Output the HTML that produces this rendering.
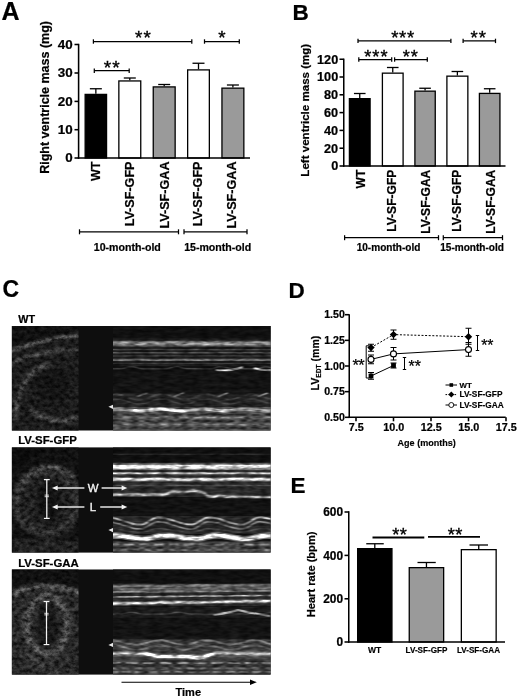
<!DOCTYPE html>
<html><head><meta charset="utf-8"><title>Figure</title>
<style>
html,body{margin:0;padding:0;background:#fff;}
body{width:520px;height:699px;overflow:hidden;}
svg{display:block;font-family:"Liberation Sans",Arial,Helvetica,sans-serif;}
</style></head><body>
<svg width="520" height="699" viewBox="0 0 520 699">
<rect x="0" y="0" width="520" height="699" fill="#fff"/>
<g id="panelA">
<text x="1.60" y="19.60" font-size="25" text-anchor="start" font-weight="bold" fill="#000"  stroke="#000" stroke-width="0.22">A</text>
<line x1="95.85" y1="88.75" x2="95.85" y2="93.75" stroke="#000" stroke-width="1.3" />
<line x1="89.85" y1="88.75" x2="101.85" y2="88.75" stroke="#000" stroke-width="1.3" />
<rect x="85.15" y="94.40" width="21.40" height="63.60" fill="#000" stroke="#000" stroke-width="1.3" />
<line x1="129.80" y1="78.00" x2="129.80" y2="80.30" stroke="#000" stroke-width="1.3" />
<line x1="123.80" y1="78.00" x2="135.80" y2="78.00" stroke="#000" stroke-width="1.3" />
<rect x="118.85" y="80.95" width="21.90" height="77.05" fill="#fff" stroke="#000" stroke-width="1.3" />
<line x1="164.20" y1="84.50" x2="164.20" y2="86.25" stroke="#000" stroke-width="1.3" />
<line x1="158.20" y1="84.50" x2="170.20" y2="84.50" stroke="#000" stroke-width="1.3" />
<rect x="153.25" y="86.90" width="21.90" height="71.10" fill="#9a9a9a" stroke="#000" stroke-width="1.3" />
<line x1="198.50" y1="63.25" x2="198.50" y2="69.25" stroke="#000" stroke-width="1.3" />
<line x1="192.50" y1="63.25" x2="204.50" y2="63.25" stroke="#000" stroke-width="1.3" />
<rect x="187.65" y="69.90" width="21.70" height="88.10" fill="#fff" stroke="#000" stroke-width="1.3" />
<line x1="232.90" y1="85.00" x2="232.90" y2="87.50" stroke="#000" stroke-width="1.3" />
<line x1="226.90" y1="85.00" x2="238.90" y2="85.00" stroke="#000" stroke-width="1.3" />
<rect x="221.95" y="88.15" width="21.90" height="69.85" fill="#9a9a9a" stroke="#000" stroke-width="1.3" />
<line x1="78.60" y1="43.80" x2="78.60" y2="158.78" stroke="#000" stroke-width="1.55" />
<line x1="77.82" y1="158.00" x2="250.00" y2="158.00" stroke="#000" stroke-width="1.55" />
<line x1="74.50" y1="44.50" x2="78.60" y2="44.50" stroke="#000" stroke-width="1.55" />
<text x="72.70" y="48.90" font-size="13.4" text-anchor="end" font-weight="bold" fill="#000"  stroke="#000" stroke-width="0.22">40</text>
<line x1="74.50" y1="73.00" x2="78.60" y2="73.00" stroke="#000" stroke-width="1.55" />
<text x="72.70" y="77.40" font-size="13.4" text-anchor="end" font-weight="bold" fill="#000"  stroke="#000" stroke-width="0.22">30</text>
<line x1="74.50" y1="101.40" x2="78.60" y2="101.40" stroke="#000" stroke-width="1.55" />
<text x="72.70" y="105.80" font-size="13.4" text-anchor="end" font-weight="bold" fill="#000"  stroke="#000" stroke-width="0.22">20</text>
<line x1="74.50" y1="129.70" x2="78.60" y2="129.70" stroke="#000" stroke-width="1.55" />
<text x="72.70" y="134.10" font-size="13.4" text-anchor="end" font-weight="bold" fill="#000"  stroke="#000" stroke-width="0.22">10</text>
<line x1="74.50" y1="158.00" x2="78.60" y2="158.00" stroke="#000" stroke-width="1.55" />
<text x="72.70" y="162.40" font-size="13.4" text-anchor="end" font-weight="bold" fill="#000"  stroke="#000" stroke-width="0.22">0</text>
<text x="49.00" y="97.40" font-size="12.5" text-anchor="middle" font-weight="bold" fill="#000" transform="rotate(-90 49.00 97.40)"  stroke="#000" stroke-width="0.22">Right ventricle mass (mg)</text>
<text x="100.00" y="161.50" font-size="12.6" text-anchor="end" font-weight="bold" fill="#000" transform="rotate(-90 100.00 161.50)"  stroke="#000" stroke-width="0.22">WT</text>
<text x="134.30" y="161.50" font-size="12.6" text-anchor="end" font-weight="bold" fill="#000" transform="rotate(-90 134.30 161.50)"  stroke="#000" stroke-width="0.22">LV-SF-GFP</text>
<text x="169.10" y="161.50" font-size="12.6" text-anchor="end" font-weight="bold" fill="#000" transform="rotate(-90 169.10 161.50)"  stroke="#000" stroke-width="0.22">LV-SF-GAA</text>
<text x="201.70" y="161.50" font-size="12.6" text-anchor="end" font-weight="bold" fill="#000" transform="rotate(-90 201.70 161.50)"  stroke="#000" stroke-width="0.22">LV-SF-GFP</text>
<text x="235.70" y="161.50" font-size="12.6" text-anchor="end" font-weight="bold" fill="#000" transform="rotate(-90 235.70 161.50)"  stroke="#000" stroke-width="0.22">LV-SF-GAA</text>
<line x1="93.40" y1="41.50" x2="191.80" y2="41.50" stroke="#000" stroke-width="1.25" />
<line x1="93.40" y1="39.30" x2="93.40" y2="43.70" stroke="#000" stroke-width="1.25" />
<line x1="191.80" y1="39.30" x2="191.80" y2="43.70" stroke="#000" stroke-width="1.25" />
<text x="135.12" y="44.19" font-size="18.82" font-weight="normal" letter-spacing="1.18" stroke="#000" stroke-width="0.35">**</text>
<line x1="204.50" y1="41.50" x2="239.30" y2="41.50" stroke="#000" stroke-width="1.25" />
<line x1="204.50" y1="39.30" x2="204.50" y2="43.70" stroke="#000" stroke-width="1.25" />
<line x1="239.30" y1="39.30" x2="239.30" y2="43.70" stroke="#000" stroke-width="1.25" />
<text x="218.17" y="44.19" font-size="18.82" font-weight="normal" letter-spacing="0.00" stroke="#000" stroke-width="0.35">*</text>
<line x1="94.30" y1="70.70" x2="129.20" y2="70.70" stroke="#000" stroke-width="1.25" />
<line x1="94.30" y1="68.50" x2="94.30" y2="72.90" stroke="#000" stroke-width="1.25" />
<line x1="129.20" y1="68.50" x2="129.20" y2="72.90" stroke="#000" stroke-width="1.25" />
<text x="103.82" y="74.39" font-size="19.12" font-weight="normal" letter-spacing="1.06" stroke="#000" stroke-width="0.35">**</text>
<line x1="79.50" y1="231.80" x2="178.50" y2="231.80" stroke="#000" stroke-width="1.25" />
<line x1="79.50" y1="229.30" x2="79.50" y2="234.30" stroke="#000" stroke-width="1.25" />
<line x1="178.50" y1="229.30" x2="178.50" y2="234.30" stroke="#000" stroke-width="1.25" />
<line x1="184.00" y1="231.80" x2="247.00" y2="231.80" stroke="#000" stroke-width="1.25" />
<line x1="184.00" y1="229.30" x2="184.00" y2="234.30" stroke="#000" stroke-width="1.25" />
<line x1="247.00" y1="229.30" x2="247.00" y2="234.30" stroke="#000" stroke-width="1.25" />
<text x="127.30" y="251.20" font-size="10.6" text-anchor="middle" font-weight="bold" fill="#000"  stroke="#000" stroke-width="0.22">10-month-old</text>
<text x="217.70" y="251.20" font-size="10.6" text-anchor="middle" font-weight="bold" fill="#000"  stroke="#000" stroke-width="0.22">15-month-old</text>
</g>
<g id="panelB">
<text x="292.40" y="20.00" font-size="22.5" text-anchor="start" font-weight="bold" fill="#000"  stroke="#000" stroke-width="0.22">B</text>
<line x1="359.75" y1="93.50" x2="359.75" y2="98.00" stroke="#000" stroke-width="1.3" />
<line x1="353.95" y1="93.50" x2="365.55" y2="93.50" stroke="#000" stroke-width="1.3" />
<rect x="349.40" y="98.65" width="20.70" height="67.35" fill="#000" stroke="#000" stroke-width="1.3" />
<line x1="392.75" y1="67.50" x2="392.75" y2="72.50" stroke="#000" stroke-width="1.3" />
<line x1="386.95" y1="67.50" x2="398.55" y2="67.50" stroke="#000" stroke-width="1.3" />
<rect x="382.40" y="73.15" width="20.70" height="92.85" fill="#fff" stroke="#000" stroke-width="1.3" />
<line x1="425.07" y1="88.25" x2="425.07" y2="90.50" stroke="#000" stroke-width="1.3" />
<line x1="419.27" y1="88.25" x2="430.88" y2="88.25" stroke="#000" stroke-width="1.3" />
<rect x="414.90" y="91.15" width="20.35" height="74.85" fill="#9a9a9a" stroke="#000" stroke-width="1.3" />
<line x1="457.38" y1="71.50" x2="457.38" y2="75.50" stroke="#000" stroke-width="1.3" />
<line x1="451.57" y1="71.50" x2="463.18" y2="71.50" stroke="#000" stroke-width="1.3" />
<rect x="446.90" y="76.15" width="20.95" height="89.85" fill="#fff" stroke="#000" stroke-width="1.3" />
<line x1="489.68" y1="88.75" x2="489.68" y2="92.75" stroke="#000" stroke-width="1.3" />
<line x1="483.88" y1="88.75" x2="495.48" y2="88.75" stroke="#000" stroke-width="1.3" />
<rect x="479.40" y="93.40" width="20.55" height="72.60" fill="#9a9a9a" stroke="#000" stroke-width="1.3" />
<line x1="343.75" y1="58.60" x2="343.75" y2="166.78" stroke="#000" stroke-width="1.55" />
<line x1="342.98" y1="166.00" x2="505.50" y2="166.00" stroke="#000" stroke-width="1.55" />
<line x1="339.50" y1="59.25" x2="343.75" y2="59.25" stroke="#000" stroke-width="1.55" />
<text x="338.20" y="63.55" font-size="12.7" text-anchor="end" font-weight="bold" fill="#000"  stroke="#000" stroke-width="0.22">120</text>
<line x1="339.50" y1="77.00" x2="343.75" y2="77.00" stroke="#000" stroke-width="1.55" />
<text x="338.20" y="81.30" font-size="12.7" text-anchor="end" font-weight="bold" fill="#000"  stroke="#000" stroke-width="0.22">100</text>
<line x1="339.50" y1="94.80" x2="343.75" y2="94.80" stroke="#000" stroke-width="1.55" />
<text x="338.20" y="99.10" font-size="12.7" text-anchor="end" font-weight="bold" fill="#000"  stroke="#000" stroke-width="0.22">80</text>
<line x1="339.50" y1="112.60" x2="343.75" y2="112.60" stroke="#000" stroke-width="1.55" />
<text x="338.20" y="116.90" font-size="12.7" text-anchor="end" font-weight="bold" fill="#000"  stroke="#000" stroke-width="0.22">60</text>
<line x1="339.50" y1="130.40" x2="343.75" y2="130.40" stroke="#000" stroke-width="1.55" />
<text x="338.20" y="134.70" font-size="12.7" text-anchor="end" font-weight="bold" fill="#000"  stroke="#000" stroke-width="0.22">40</text>
<line x1="339.50" y1="148.20" x2="343.75" y2="148.20" stroke="#000" stroke-width="1.55" />
<text x="338.20" y="152.50" font-size="12.7" text-anchor="end" font-weight="bold" fill="#000"  stroke="#000" stroke-width="0.22">20</text>
<line x1="339.50" y1="166.00" x2="343.75" y2="166.00" stroke="#000" stroke-width="1.55" />
<text x="338.20" y="170.30" font-size="12.7" text-anchor="end" font-weight="bold" fill="#000"  stroke="#000" stroke-width="0.22">0</text>
<text x="309.30" y="110.20" font-size="11.56" text-anchor="middle" font-weight="bold" fill="#000" transform="rotate(-90 309.30 110.20)"  stroke="#000" stroke-width="0.22">Left ventricle mass (mg)</text>
<text x="365.30" y="169.70" font-size="12.05" text-anchor="end" font-weight="bold" fill="#000" transform="rotate(-90 365.30 169.70)"  stroke="#000" stroke-width="0.22">WT</text>
<text x="396.30" y="169.70" font-size="12.05" text-anchor="end" font-weight="bold" fill="#000" transform="rotate(-90 396.30 169.70)"  stroke="#000" stroke-width="0.22">LV-SF-GFP</text>
<text x="429.80" y="169.70" font-size="12.05" text-anchor="end" font-weight="bold" fill="#000" transform="rotate(-90 429.80 169.70)"  stroke="#000" stroke-width="0.22">LV-SF-GAA</text>
<text x="461.20" y="169.70" font-size="12.05" text-anchor="end" font-weight="bold" fill="#000" transform="rotate(-90 461.20 169.70)"  stroke="#000" stroke-width="0.22">LV-SF-GFP</text>
<text x="494.90" y="169.70" font-size="12.05" text-anchor="end" font-weight="bold" fill="#000" transform="rotate(-90 494.90 169.70)"  stroke="#000" stroke-width="0.22">LV-SF-GAA</text>
<line x1="358.00" y1="40.90" x2="450.90" y2="40.90" stroke="#000" stroke-width="1.25" />
<line x1="358.00" y1="38.70" x2="358.00" y2="43.10" stroke="#000" stroke-width="1.25" />
<line x1="450.90" y1="38.70" x2="450.90" y2="43.10" stroke="#000" stroke-width="1.25" />
<text x="391.13" y="44.19" font-size="18.53" font-weight="normal" letter-spacing="0.74" stroke="#000" stroke-width="0.35">***</text>
<line x1="463.10" y1="40.90" x2="495.50" y2="40.90" stroke="#000" stroke-width="1.25" />
<line x1="463.10" y1="38.70" x2="463.10" y2="43.10" stroke="#000" stroke-width="1.25" />
<line x1="495.50" y1="38.70" x2="495.50" y2="43.10" stroke="#000" stroke-width="1.25" />
<text x="470.53" y="44.19" font-size="18.53" font-weight="normal" letter-spacing="0.99" stroke="#000" stroke-width="0.35">**</text>
<line x1="358.80" y1="59.50" x2="391.70" y2="59.50" stroke="#000" stroke-width="1.25" />
<line x1="358.80" y1="57.30" x2="358.80" y2="61.70" stroke="#000" stroke-width="1.25" />
<line x1="391.70" y1="57.30" x2="391.70" y2="61.70" stroke="#000" stroke-width="1.25" />
<text x="364.14" y="62.78" font-size="18.24" font-weight="normal" letter-spacing="1.06" stroke="#000" stroke-width="0.35">***</text>
<line x1="394.60" y1="59.50" x2="427.30" y2="59.50" stroke="#000" stroke-width="1.25" />
<line x1="394.60" y1="57.30" x2="394.60" y2="61.70" stroke="#000" stroke-width="1.25" />
<line x1="427.30" y1="57.30" x2="427.30" y2="61.70" stroke="#000" stroke-width="1.25" />
<text x="402.84" y="62.78" font-size="18.24" font-weight="normal" letter-spacing="0.71" stroke="#000" stroke-width="0.35">**</text>
<line x1="344.60" y1="237.70" x2="438.50" y2="237.70" stroke="#000" stroke-width="1.25" />
<line x1="344.60" y1="235.20" x2="344.60" y2="240.20" stroke="#000" stroke-width="1.25" />
<line x1="438.50" y1="235.20" x2="438.50" y2="240.20" stroke="#000" stroke-width="1.25" />
<line x1="443.30" y1="237.70" x2="502.50" y2="237.70" stroke="#000" stroke-width="1.25" />
<line x1="443.30" y1="235.20" x2="443.30" y2="240.20" stroke="#000" stroke-width="1.25" />
<line x1="502.50" y1="235.20" x2="502.50" y2="240.20" stroke="#000" stroke-width="1.25" />
<text x="388.50" y="251.20" font-size="10.05" text-anchor="middle" font-weight="bold" fill="#000"  stroke="#000" stroke-width="0.22">10-month-old</text>
<text x="472.10" y="251.20" font-size="10.05" text-anchor="middle" font-weight="bold" fill="#000"  stroke="#000" stroke-width="0.22">15-month-old</text>
</g>
<g id="panelD">
<text x="288.60" y="298.00" font-size="22.5" text-anchor="start" font-weight="bold" fill="#000"  stroke="#000" stroke-width="0.22">D</text>
<line x1="349.25" y1="314.30" x2="349.25" y2="418.07" stroke="#000" stroke-width="1.55" />
<line x1="348.48" y1="417.30" x2="505.70" y2="417.30" stroke="#000" stroke-width="1.55" />
<line x1="345.00" y1="314.70" x2="349.25" y2="314.70" stroke="#000" stroke-width="1.55" />
<text x="344.80" y="318.40" font-size="10.6" text-anchor="end" font-weight="bold" fill="#000"  stroke="#000" stroke-width="0.22">1.50</text>
<line x1="345.00" y1="340.35" x2="349.25" y2="340.35" stroke="#000" stroke-width="1.55" />
<text x="344.80" y="344.05" font-size="10.6" text-anchor="end" font-weight="bold" fill="#000"  stroke="#000" stroke-width="0.22">1.25</text>
<line x1="345.00" y1="366.00" x2="349.25" y2="366.00" stroke="#000" stroke-width="1.55" />
<text x="344.80" y="369.70" font-size="10.6" text-anchor="end" font-weight="bold" fill="#000"  stroke="#000" stroke-width="0.22">1.00</text>
<line x1="345.00" y1="391.65" x2="349.25" y2="391.65" stroke="#000" stroke-width="1.55" />
<text x="344.80" y="395.35" font-size="10.6" text-anchor="end" font-weight="bold" fill="#000"  stroke="#000" stroke-width="0.22">0.75</text>
<line x1="345.00" y1="417.30" x2="349.25" y2="417.30" stroke="#000" stroke-width="1.55" />
<text x="344.80" y="421.00" font-size="10.6" text-anchor="end" font-weight="bold" fill="#000"  stroke="#000" stroke-width="0.22">0.50</text>
<line x1="356.00" y1="417.30" x2="356.00" y2="421.30" stroke="#000" stroke-width="1.55" />
<text x="356.30" y="431.20" font-size="10.8" text-anchor="middle" font-weight="bold" fill="#000"  stroke="#000" stroke-width="0.22">7.5</text>
<line x1="393.50" y1="417.30" x2="393.50" y2="421.30" stroke="#000" stroke-width="1.55" />
<text x="393.80" y="431.20" font-size="10.8" text-anchor="middle" font-weight="bold" fill="#000"  stroke="#000" stroke-width="0.22">10.0</text>
<line x1="431.00" y1="417.30" x2="431.00" y2="421.30" stroke="#000" stroke-width="1.55" />
<text x="431.30" y="431.20" font-size="10.8" text-anchor="middle" font-weight="bold" fill="#000"  stroke="#000" stroke-width="0.22">12.5</text>
<line x1="468.50" y1="417.30" x2="468.50" y2="421.30" stroke="#000" stroke-width="1.55" />
<text x="468.80" y="431.20" font-size="10.8" text-anchor="middle" font-weight="bold" fill="#000"  stroke="#000" stroke-width="0.22">15.0</text>
<line x1="506.00" y1="417.30" x2="506.00" y2="421.30" stroke="#000" stroke-width="1.55" />
<text x="506.30" y="431.20" font-size="10.8" text-anchor="middle" font-weight="bold" fill="#000"  stroke="#000" stroke-width="0.22">17.5</text>
<text x="426.70" y="445.60" font-size="9.05" text-anchor="middle" font-weight="bold" fill="#000"  stroke="#000" stroke-width="0.15">Age (months)</text>
<text transform="translate(319.4 390.4) rotate(-90)" stroke="#000" stroke-width="0.2" font-size="10.6" font-weight="bold">LV<tspan font-size="6.6" dy="1.6">EDT</tspan><tspan dy="-1.6"> (mm)</tspan></text>
<line x1="371.00" y1="344.25" x2="371.00" y2="351.25" stroke="#000" stroke-width="1.0" />
<line x1="368.00" y1="344.25" x2="374.00" y2="344.25" stroke="#000" stroke-width="1.0" />
<line x1="368.00" y1="351.25" x2="374.00" y2="351.25" stroke="#000" stroke-width="1.0" />
<line x1="393.50" y1="330.00" x2="393.50" y2="339.25" stroke="#000" stroke-width="1.0" />
<line x1="390.50" y1="330.00" x2="396.50" y2="330.00" stroke="#000" stroke-width="1.0" />
<line x1="390.50" y1="339.25" x2="396.50" y2="339.25" stroke="#000" stroke-width="1.0" />
<line x1="468.50" y1="328.25" x2="468.50" y2="344.25" stroke="#000" stroke-width="1.0" />
<line x1="465.50" y1="328.25" x2="471.50" y2="328.25" stroke="#000" stroke-width="1.0" />
<line x1="465.50" y1="344.25" x2="471.50" y2="344.25" stroke="#000" stroke-width="1.0" />
<line x1="371.00" y1="355.00" x2="371.00" y2="363.75" stroke="#000" stroke-width="1.0" />
<line x1="368.00" y1="355.00" x2="374.00" y2="355.00" stroke="#000" stroke-width="1.0" />
<line x1="368.00" y1="363.75" x2="374.00" y2="363.75" stroke="#000" stroke-width="1.0" />
<line x1="393.50" y1="347.50" x2="393.50" y2="360.00" stroke="#000" stroke-width="1.0" />
<line x1="390.50" y1="347.50" x2="396.50" y2="347.50" stroke="#000" stroke-width="1.0" />
<line x1="390.50" y1="360.00" x2="396.50" y2="360.00" stroke="#000" stroke-width="1.0" />
<line x1="468.50" y1="342.50" x2="468.50" y2="356.25" stroke="#000" stroke-width="1.0" />
<line x1="465.50" y1="342.50" x2="471.50" y2="342.50" stroke="#000" stroke-width="1.0" />
<line x1="465.50" y1="356.25" x2="471.50" y2="356.25" stroke="#000" stroke-width="1.0" />
<line x1="371.00" y1="372.50" x2="371.00" y2="379.25" stroke="#000" stroke-width="1.0" />
<line x1="368.00" y1="372.50" x2="374.00" y2="372.50" stroke="#000" stroke-width="1.0" />
<line x1="368.00" y1="379.25" x2="374.00" y2="379.25" stroke="#000" stroke-width="1.0" />
<line x1="393.50" y1="363.00" x2="393.50" y2="368.00" stroke="#000" stroke-width="1.0" />
<line x1="390.50" y1="363.00" x2="396.50" y2="363.00" stroke="#000" stroke-width="1.0" />
<line x1="390.50" y1="368.00" x2="396.50" y2="368.00" stroke="#000" stroke-width="1.0" />
<polyline points="371.0,347.6 393.5,334.6 468.5,336.7" fill="none" stroke="#000" stroke-width="1" stroke-dasharray="2 1.6"/>
<polyline points="371.0,359.4 393.5,353.9 468.5,349.6" fill="none" stroke="#000" stroke-width="1"/>
<polyline points="371.0,376.0 393.5,365.5" fill="none" stroke="#000" stroke-width="1"/>
<polygon points="367.3,347.6 371.0,343.9 374.7,347.6 371.0,351.3" fill="#000"/>
<polygon points="389.8,334.6 393.5,330.9 397.2,334.6 393.5,338.3" fill="#000"/>
<polygon points="464.8,336.7 468.5,333.0 472.2,336.7 468.5,340.4" fill="#000"/>
<circle cx="371.0" cy="359.4" r="3.0" fill="#fff" stroke="#000" stroke-width="1.1"/>
<circle cx="393.5" cy="353.9" r="3.0" fill="#fff" stroke="#000" stroke-width="1.1"/>
<circle cx="468.5" cy="349.6" r="3.0" fill="#fff" stroke="#000" stroke-width="1.1"/>
<rect x="368.6" y="373.6" width="4.8" height="4.8" fill="#000"/>
<rect x="391.1" y="363.1" width="4.8" height="4.8" fill="#000"/>
<line x1="366.20" y1="345.80" x2="366.20" y2="378.00" stroke="#000" stroke-width="1.0" />
<line x1="366.20" y1="345.80" x2="369.40" y2="345.80" stroke="#000" stroke-width="1.0" />
<line x1="366.20" y1="378.00" x2="369.40" y2="378.00" stroke="#000" stroke-width="1.0" />
<text x="352.57" y="371.36" font-size="16.47" font-weight="normal" letter-spacing="-0.81" stroke="#000" stroke-width="0.25">**</text>
<line x1="404.50" y1="357.50" x2="404.50" y2="369.50" stroke="#000" stroke-width="1.0" />
<line x1="402.80" y1="357.50" x2="406.20" y2="357.50" stroke="#000" stroke-width="1" />
<line x1="402.80" y1="369.50" x2="406.20" y2="369.50" stroke="#000" stroke-width="1" />
<text x="408.48" y="371.96" font-size="15.88" font-weight="normal" letter-spacing="0.22" stroke="#000" stroke-width="0.25">**</text>
<line x1="477.50" y1="335.50" x2="477.50" y2="350.50" stroke="#000" stroke-width="1.0" />
<line x1="475.80" y1="335.50" x2="479.20" y2="335.50" stroke="#000" stroke-width="1" />
<line x1="475.80" y1="350.50" x2="479.20" y2="350.50" stroke="#000" stroke-width="1" />
<text x="481.18" y="351.36" font-size="15.88" font-weight="normal" letter-spacing="-0.08" stroke="#000" stroke-width="0.25">**</text>
<line x1="445.50" y1="385.00" x2="457.00" y2="385.00" stroke="#000" stroke-width="1" />
<rect x="449.5" y="383.2" width="3.6" height="3.6" fill="#000"/>
<text x="459.50" y="387.50" font-size="7.9" text-anchor="start" font-weight="bold" fill="#000"  stroke="#000" stroke-width="0.15">WT</text>
<line x1="445.50" y1="394.60" x2="457.00" y2="394.60" stroke="#000" stroke-width="1" stroke-dasharray="1.6 1.4"/>
<polygon points="448.3,394.6 451.3,391.6 454.3,394.6 451.3,397.6" fill="#000"/>
<text x="459.50" y="397.20" font-size="8.35" text-anchor="start" font-weight="bold" fill="#000"  stroke="#000" stroke-width="0.15">LV-SF-GFP</text>
<line x1="445.50" y1="405.00" x2="457.00" y2="405.00" stroke="#000" stroke-width="1" />
<circle cx="451.3" cy="405" r="2.5" fill="#fff" stroke="#000" stroke-width="0.9"/>
<text x="459.50" y="407.60" font-size="8.35" text-anchor="start" font-weight="bold" fill="#000"  stroke="#000" stroke-width="0.15">LV-SF-GAA</text>
</g>
<g id="panelE">
<text x="290.60" y="492.90" font-size="22.5" text-anchor="start" font-weight="bold" fill="#000"  stroke="#000" stroke-width="0.22">E</text>
<line x1="374.80" y1="543.75" x2="374.80" y2="548.00" stroke="#000" stroke-width="1.3" />
<line x1="366.25" y1="543.75" x2="383.75" y2="543.75" stroke="#000" stroke-width="1.3" />
<rect x="357.65" y="548.65" width="34.30" height="93.35" fill="#000" stroke="#000" stroke-width="1.3" />
<line x1="426.45" y1="562.50" x2="426.45" y2="567.00" stroke="#000" stroke-width="1.3" />
<line x1="417.50" y1="562.50" x2="435.75" y2="562.50" stroke="#000" stroke-width="1.3" />
<rect x="409.25" y="567.65" width="34.40" height="74.35" fill="#9a9a9a" stroke="#000" stroke-width="1.3" />
<line x1="478.75" y1="545.00" x2="478.75" y2="549.00" stroke="#000" stroke-width="1.3" />
<line x1="469.50" y1="545.00" x2="488.00" y2="545.00" stroke="#000" stroke-width="1.3" />
<rect x="461.35" y="549.65" width="34.80" height="92.35" fill="#fff" stroke="#000" stroke-width="1.3" />
<line x1="348.75" y1="511.20" x2="348.75" y2="642.77" stroke="#000" stroke-width="1.55" />
<line x1="347.98" y1="642.00" x2="505.00" y2="642.00" stroke="#000" stroke-width="1.55" />
<line x1="344.50" y1="512.00" x2="348.75" y2="512.00" stroke="#000" stroke-width="1.55" />
<text x="343.00" y="516.30" font-size="11.9" text-anchor="end" font-weight="bold" fill="#000"  stroke="#000" stroke-width="0.22">600</text>
<line x1="344.50" y1="555.40" x2="348.75" y2="555.40" stroke="#000" stroke-width="1.55" />
<text x="343.00" y="559.70" font-size="11.9" text-anchor="end" font-weight="bold" fill="#000"  stroke="#000" stroke-width="0.22">400</text>
<line x1="344.50" y1="598.80" x2="348.75" y2="598.80" stroke="#000" stroke-width="1.55" />
<text x="343.00" y="603.10" font-size="11.9" text-anchor="end" font-weight="bold" fill="#000"  stroke="#000" stroke-width="0.22">200</text>
<line x1="344.50" y1="642.00" x2="348.75" y2="642.00" stroke="#000" stroke-width="1.55" />
<text x="343.00" y="646.30" font-size="11.9" text-anchor="end" font-weight="bold" fill="#000"  stroke="#000" stroke-width="0.22">0</text>
<text x="314.60" y="574.40" font-size="11.1" text-anchor="middle" font-weight="bold" fill="#000" transform="rotate(-90 314.60 574.40)"  stroke="#000" stroke-width="0.22">Heart rate (bpm)</text>
<line x1="372.50" y1="537.50" x2="424.30" y2="537.50" stroke="#000" stroke-width="1.8" />
<line x1="428.00" y1="536.90" x2="480.00" y2="536.90" stroke="#000" stroke-width="1.8" />
<text x="392.14" y="540.78" font-size="18.24" font-weight="normal" letter-spacing="0.51" stroke="#000" stroke-width="0.35">**</text>
<text x="447.84" y="540.78" font-size="18.24" font-weight="normal" letter-spacing="0.31" stroke="#000" stroke-width="0.35">**</text>
<text x="374.60" y="653.20" font-size="8.5" text-anchor="middle" font-weight="bold" fill="#000"  stroke="#000" stroke-width="0.15">WT</text>
<text x="426.50" y="653.20" font-size="8.15" text-anchor="middle" font-weight="bold" fill="#000"  stroke="#000" stroke-width="0.15">LV-SF-GFP</text>
<text x="478.50" y="653.20" font-size="8.15" text-anchor="middle" font-weight="bold" fill="#000"  stroke="#000" stroke-width="0.15">LV-SF-GAA</text>
</g>
<defs>
<filter id="fB" x="0" y="0" width="1" height="1" filterUnits="objectBoundingBox" color-interpolation-filters="sRGB">
<feGaussianBlur in="SourceGraphic" stdDeviation="1.8" result="b"/>
<feTurbulence type="fractalNoise" baseFrequency="0.2 0.26" numOctaves="3" seed="7" result="t"/>
<feColorMatrix in="t" type="matrix" values="1.6 0 0 0 -0.3  1.6 0 0 0 -0.3  1.6 0 0 0 -0.3  0 0 0 0 1" result="n"/>
<feComposite in="b" in2="n" operator="arithmetic" k1="1.5" k2="0.25" k3="0" k4="0"/>
</filter>
<filter id="fM" x="0" y="0" width="1" height="1" filterUnits="objectBoundingBox" color-interpolation-filters="sRGB">
<feGaussianBlur in="SourceGraphic" stdDeviation="1.0 0.75" result="b"/>
<feTurbulence type="fractalNoise" baseFrequency="0.1 0.3" numOctaves="2" seed="11" result="t"/>
<feColorMatrix in="t" type="matrix" values="1.6 0 0 0 -0.3  1.6 0 0 0 -0.3  1.6 0 0 0 -0.3  0 0 0 0 1" result="n"/>
<feComposite in="b" in2="n" operator="arithmetic" k1="1.0" k2="0.5" k3="0" k4="0"/>
</filter>
<filter id="bl1" x="-0.1" y="-0.1" width="1.2" height="1.2"><feGaussianBlur stdDeviation="2.5"/></filter>
<clipPath id="cb0"><rect x="11.9" y="326.0" width="66.7" height="104.5"/></clipPath>
<clipPath id="cm0"><rect x="113.0" y="326.0" width="157.6" height="104.5"/></clipPath>
<clipPath id="cb1"><rect x="11.9" y="447.4" width="66.7" height="105.2"/></clipPath>
<clipPath id="cm1"><rect x="113.0" y="447.4" width="157.6" height="105.2"/></clipPath>
<clipPath id="cb2"><rect x="11.9" y="569.5" width="66.7" height="105.1"/></clipPath>
<clipPath id="cm2"><rect x="113.0" y="569.5" width="157.6" height="105.1"/></clipPath>
</defs>
<g id="panelC">
<text x="2.40" y="297.00" font-size="23" text-anchor="start" font-weight="bold" fill="#000"  stroke="#000" stroke-width="0.22">C</text>
<text x="18.30" y="323.40" font-size="10.8" text-anchor="start" font-weight="bold" fill="#000"  stroke="#000" stroke-width="0.22">WT</text>
<text x="18.20" y="444.10" font-size="11.4" text-anchor="start" font-weight="bold" fill="#000"  stroke="#000" stroke-width="0.22">LV-SF-GFP</text>
<text x="18.20" y="566.60" font-size="11.4" text-anchor="start" font-weight="bold" fill="#000"  stroke="#000" stroke-width="0.22">LV-SF-GAA</text>
<rect x="11.9" y="326.0" width="258.7" height="104.5" fill="#0e0e0e"/>
<rect x="11.9" y="447.4" width="258.7" height="105.2" fill="#0e0e0e"/>
<rect x="11.9" y="569.5" width="258.7" height="105.1" fill="#0e0e0e"/>
<g clip-path="url(#cb0)"><g filter="url(#fB)">
<rect x="5.9" y="320.0" width="78.7" height="116.5" fill="#111111"/>
<path d="M0,352 Q40,338 90,334 L90,440 L0,440 Z" fill="#1b1b1b"/>
<path d="M6,352 Q40,339 84,335" fill="none" stroke="#5c5c5c" stroke-width="3"/>
<path d="M10,364 Q45,348 84,350" fill="none" stroke="#484848" stroke-width="3"/>
<path d="M16,420 Q14,375 50,364 " fill="none" stroke="#3e3e3e" stroke-width="5"/>
<ellipse cx="52" cy="386" rx="17" ry="17" fill="#141414"/>
<path d="M30,410 Q50,426 80,418" fill="none" stroke="#3e3e3e" stroke-width="5"/>
<rect x="0" y="320" width="90" height="12" fill="#121212"/>
</g></g>
<g clip-path="url(#cb1)"><g filter="url(#fB)">
<rect x="5.9" y="441.4" width="78.7" height="117.2" fill="#111111"/>
<ellipse cx="47" cy="502" rx="37" ry="37" fill="#202020"/>
<ellipse cx="47" cy="502" rx="30" ry="31" fill="none" stroke="#2e2e2e" stroke-width="7"/>
<path d="M20,484 Q46,452 76,478" fill="none" stroke="#484848" stroke-width="4"/>
<ellipse cx="49" cy="501" rx="13" ry="21" fill="#141414"/>
<path d="M14,540 L80,540 L80,556 L14,556 Z" fill="#222222"/>
<path d="M10,450 L40,450 L10,475 Z" fill="#0c0c0c"/>
</g></g>
<g clip-path="url(#cb2)"><g filter="url(#fB)">
<rect x="5.9" y="563.5" width="78.7" height="117.1" fill="#111111"/>
<path d="M0,600 Q8,585 46,584 Q80,585 90,596 L90,680 L0,680 Z" fill="#282828"/>
<path d="M6,600 Q20,586 46,586 Q70,586 84,596" fill="none" stroke="#4a4a4a" stroke-width="5"/>
<ellipse cx="47" cy="625" rx="20" ry="29" fill="none" stroke="#4a4a4a" stroke-width="7"/>
<ellipse cx="47" cy="626" rx="11" ry="22" fill="#181818"/>
<path d="M25,655 Q45,668 60,676" fill="none" stroke="#3c3c3c" stroke-width="4"/>
</g></g>
<g clip-path="url(#cm0)"><g filter="url(#fM)">
<rect x="105.0" y="320.0" width="173.6" height="116.5" fill="#101010"/>
<rect x="105.0" y="338.5" width="173.6" height="27.5" fill="#1b1b1b"/>
<path d="M109.0,343.6 L112.0,343.6 L115.0,343.6 L118.0,343.6 L121.0,343.6 L124.0,343.6 L127.0,343.6 L130.0,343.6 L133.0,343.6 L136.0,343.6 L139.0,343.6 L142.0,343.6 L145.0,343.6 L148.0,343.6 L151.0,343.6 L154.0,343.6 L157.0,343.6 L160.0,343.6 L163.0,343.6 L166.0,343.6 L169.0,343.6 L172.0,343.6 L175.0,343.6 L178.0,343.6 L181.0,343.6 L184.0,343.6 L187.0,343.6 L190.0,343.6 L193.0,343.6 L196.0,343.6 L199.0,343.6 L202.0,343.6 L205.0,343.6 L208.0,343.6 L211.0,343.6 L214.0,343.6 L217.0,343.6 L220.0,343.6 L223.0,343.6 L226.0,343.6 L229.0,343.6 L232.0,343.6 L235.0,343.6 L238.0,343.6 L241.0,343.6 L244.0,343.6 L247.0,343.6 L250.0,343.6 L253.0,343.6 L256.0,343.6 L259.0,343.6 L262.0,343.6 L265.0,343.6 L268.0,343.6 L271.0,343.6 L274.0,343.6" fill="none" stroke="#646464" stroke-width="5.6" stroke-opacity="1"/>
<path d="M109.0,343.6 L112.0,343.6 L115.0,343.6 L118.0,343.6 L121.0,343.6 L124.0,343.6 L127.0,343.6 L130.0,343.6 L133.0,343.6 L136.0,343.6 L139.0,343.6 L142.0,343.6 L145.0,343.6 L148.0,343.6 L151.0,343.6 L154.0,343.6 L157.0,343.6 L160.0,343.6 L163.0,343.6 L166.0,343.6 L169.0,343.6 L172.0,343.6 L175.0,343.6 L178.0,343.6 L181.0,343.6 L184.0,343.6 L187.0,343.6 L190.0,343.6 L193.0,343.6 L196.0,343.6 L199.0,343.6 L202.0,343.6 L205.0,343.6 L208.0,343.6 L211.0,343.6 L214.0,343.6 L217.0,343.6 L220.0,343.6 L223.0,343.6 L226.0,343.6 L229.0,343.6 L232.0,343.6 L235.0,343.6 L238.0,343.6 L241.0,343.6 L244.0,343.6 L247.0,343.6 L250.0,343.6 L253.0,343.6 L256.0,343.6 L259.0,343.6 L262.0,343.6 L265.0,343.6 L268.0,343.6 L271.0,343.6 L274.0,343.6" fill="none" stroke="#8c8c8c" stroke-width="2.6" stroke-opacity="1"/>
<path d="M109.0,349.6 L112.0,349.6 L115.0,349.6 L118.0,349.6 L121.0,349.6 L124.0,349.6 L127.0,349.6 L130.0,349.6 L133.0,349.6 L136.0,349.6 L139.0,349.6 L142.0,349.6 L145.0,349.6 L148.0,349.6 L151.0,349.6 L154.0,349.6 L157.0,349.6 L160.0,349.6 L163.0,349.6 L166.0,349.6 L169.0,349.6 L172.0,349.6 L175.0,349.6 L178.0,349.6 L181.0,349.6 L184.0,349.6 L187.0,349.6 L190.0,349.6 L193.0,349.6 L196.0,349.6 L199.0,349.6 L202.0,349.6 L205.0,349.6 L208.0,349.6 L211.0,349.6 L214.0,349.6 L217.0,349.6 L220.0,349.6 L223.0,349.6 L226.0,349.6 L229.0,349.6 L232.0,349.6 L235.0,349.6 L238.0,349.6 L241.0,349.6 L244.0,349.6 L247.0,349.6 L250.0,349.6 L253.0,349.6 L256.0,349.6 L259.0,349.6 L262.0,349.6 L265.0,349.6 L268.0,349.6 L271.0,349.6 L274.0,349.6" fill="none" stroke="#3e3e3e" stroke-width="1.2" stroke-opacity="1"/>
<path d="M109.0,352.8 L112.0,352.8 L115.0,352.8 L118.0,352.8 L121.0,352.8 L124.0,352.8 L127.0,352.8 L130.0,352.8 L133.0,352.8 L136.0,352.8 L139.0,352.8 L142.0,352.8 L145.0,352.8 L148.0,352.8 L151.0,352.8 L154.0,352.8 L157.0,352.8 L160.0,352.8 L163.0,352.8 L166.0,352.8 L169.0,352.8 L172.0,352.8 L175.0,352.8 L178.0,352.8 L181.0,352.8 L184.0,352.8 L187.0,352.8 L190.0,352.8 L193.0,352.8 L196.0,352.8 L199.0,352.8 L202.0,352.8 L205.0,352.8 L208.0,352.8 L211.0,352.8 L214.0,352.8 L217.0,352.8 L220.0,352.8 L223.0,352.8 L226.0,352.8 L229.0,352.8 L232.0,352.8 L235.0,352.8 L238.0,352.8 L241.0,352.8 L244.0,352.8 L247.0,352.8 L250.0,352.8 L253.0,352.8 L256.0,352.8 L259.0,352.8 L262.0,352.8 L265.0,352.8 L268.0,352.8 L271.0,352.8 L274.0,352.8" fill="none" stroke="#484848" stroke-width="1.4" stroke-opacity="1"/>
<path d="M109.0,355.8 L112.0,355.8 L115.0,355.8 L118.0,355.8 L121.0,355.8 L124.0,355.8 L127.0,355.8 L130.0,355.8 L133.0,355.8 L136.0,355.8 L139.0,355.8 L142.0,355.8 L145.0,355.8 L148.0,355.8 L151.0,355.8 L154.0,355.8 L157.0,355.8 L160.0,355.8 L163.0,355.8 L166.0,355.8 L169.0,355.8 L172.0,355.8 L175.0,355.8 L178.0,355.8 L181.0,355.8 L184.0,355.8 L187.0,355.8 L190.0,355.8 L193.0,355.8 L196.0,355.8 L199.0,355.8 L202.0,355.8 L205.0,355.8 L208.0,355.8 L211.0,355.8 L214.0,355.8 L217.0,355.8 L220.0,355.8 L223.0,355.8 L226.0,355.8 L229.0,355.8 L232.0,355.8 L235.0,355.8 L238.0,355.8 L241.0,355.8 L244.0,355.8 L247.0,355.8 L250.0,355.8 L253.0,355.8 L256.0,355.8 L259.0,355.8 L262.0,355.8 L265.0,355.8 L268.0,355.8 L271.0,355.8 L274.0,355.8" fill="none" stroke="#3a3a3a" stroke-width="1.2" stroke-opacity="1"/>
<path d="M109.0,359.8 L112.0,359.8 L115.0,359.8 L118.0,359.8 L121.0,359.8 L124.0,359.8 L127.0,359.8 L130.0,359.8 L133.0,359.8 L136.0,359.8 L139.0,359.8 L142.0,359.8 L145.0,359.8 L148.0,359.8 L151.0,359.8 L154.0,359.8 L157.0,359.8 L160.0,359.8 L163.0,359.8 L166.0,359.8 L169.0,359.8 L172.0,359.8 L175.0,359.8 L178.0,359.8 L181.0,359.8 L184.0,359.8 L187.0,359.8 L190.0,359.8 L193.0,359.8 L196.0,359.8 L199.0,359.8 L202.0,359.8 L205.0,359.8 L208.0,359.8 L211.0,359.8 L214.0,359.8 L217.0,359.8 L220.0,359.8 L223.0,359.8 L226.0,359.8 L229.0,359.8 L232.0,359.8 L235.0,359.8 L238.0,359.8 L241.0,359.8 L244.0,359.8 L247.0,359.8 L250.0,359.8 L253.0,359.8 L256.0,359.8 L259.0,359.8 L262.0,359.8 L265.0,359.8 L268.0,359.8 L271.0,359.8 L274.0,359.8" fill="none" stroke="#646464" stroke-width="2.2" stroke-opacity="1"/>
<path d="M109.0,363.5 L112.0,363.5 L115.0,363.5 L118.0,363.5 L121.0,363.5 L124.0,363.5 L127.0,363.5 L130.0,363.5 L133.0,363.5 L136.0,363.5 L139.0,363.5 L142.0,363.5 L145.0,363.5 L148.0,363.5 L151.0,363.5 L154.0,363.5 L157.0,363.5 L160.0,363.5 L163.0,363.5 L166.0,363.5 L169.0,363.5 L172.0,363.5 L175.0,363.5 L178.0,363.5 L181.0,363.5 L184.0,363.5 L187.0,363.5 L190.0,363.5 L193.0,363.5 L196.0,363.5 L199.0,363.5 L202.0,363.5 L205.0,363.5 L208.0,363.5 L211.0,363.5 L214.0,363.5 L217.0,363.5 L220.0,363.5 L223.0,363.5 L226.0,363.5 L229.0,363.5 L232.0,363.5 L235.0,363.5 L238.0,363.5 L241.0,363.5 L244.0,363.5 L247.0,363.5 L250.0,363.5 L253.0,363.5 L256.0,363.5 L259.0,363.5 L262.0,363.5 L265.0,363.5 L268.0,363.5 L271.0,363.5 L274.0,363.5" fill="none" stroke="#343434" stroke-width="1.2" stroke-opacity="1"/>
<path d="M109.0,368.8 L112.0,368.8 L115.0,368.8 L118.0,368.8 L121.0,368.8 L124.0,368.2 L127.0,367.3 L130.0,366.7 L133.0,366.7 L136.0,367.4 L139.0,368.3 L142.0,368.8 L145.0,368.8 L148.0,368.8 L151.0,368.8 L154.0,368.8 L157.0,368.8 L160.0,368.8 L163.0,368.8 L166.0,368.8 L169.0,368.2 L172.0,367.3 L175.0,366.7 L178.0,366.7 L181.0,367.4 L184.0,368.3 L187.0,368.8 L190.0,368.8 L193.0,368.8 L196.0,368.8 L199.0,368.8 L202.0,368.8 L205.0,368.8 L208.0,368.8 L211.0,368.8 L214.0,368.2 L217.0,367.3 L220.0,366.7 L223.0,366.7 L226.0,367.4 L229.0,368.3 L232.0,368.8 L235.0,368.8 L238.0,368.8 L241.0,368.8 L244.0,368.8 L247.0,368.8 L250.0,368.8 L253.0,368.8 L256.0,368.8 L259.0,368.2 L262.0,367.3 L265.0,366.7 L268.0,366.7 L271.0,367.4 L274.0,368.3" fill="none" stroke="#343434" stroke-width="1.6" stroke-opacity="1"/>
<path d="M216,370 Q228,372 243,367" fill="none" stroke="#a5a5a5" stroke-width="2.0"/>
<path d="M254,368 Q262,371 274,370" fill="none" stroke="#a5a5a5" stroke-width="2.0"/>
<rect x="105.0" y="371.5" width="173.6" height="22.0" fill="#131313"/>
<rect x="105.0" y="393.5" width="173.6" height="13.5" fill="#222222"/>
<path d="M109.0,395.8 L112.0,395.0 L115.0,394.6 L118.0,394.5 L121.0,394.9 L124.0,395.7 L127.0,396.7 L130.0,397.7 L133.0,398.6 L136.0,399.2 L139.0,399.5 L142.0,399.3 L145.0,398.7 L148.0,397.9 L151.0,396.8 L154.0,395.8 L157.0,395.0 L160.0,394.6 L163.0,394.5 L166.0,394.9 L169.0,395.7 L172.0,396.7 L175.0,397.7 L178.0,398.6 L181.0,399.2 L184.0,399.5 L187.0,399.3 L190.0,398.7 L193.0,397.9 L196.0,396.8 L199.0,395.8 L202.0,395.0 L205.0,394.6 L208.0,394.5 L211.0,394.9 L214.0,395.7 L217.0,396.7 L220.0,397.7 L223.0,398.6 L226.0,399.2 L229.0,399.5 L232.0,399.3 L235.0,398.7 L238.0,397.9 L241.0,396.8 L244.0,395.8 L247.0,395.0 L250.0,394.6 L253.0,394.5 L256.0,394.9 L259.0,395.7 L262.0,396.7 L265.0,397.7 L268.0,398.6 L271.0,399.2 L274.0,399.5" fill="none" stroke="#3a3a3a" stroke-width="2.0" stroke-opacity="1" stroke-dasharray="14 6"/>
<path d="M137,396.5 L147,393" fill="none" stroke="#7d7d7d" stroke-width="1.8"/>
<path d="M174,396.5 L184,393" fill="none" stroke="#7d7d7d" stroke-width="1.8"/>
<path d="M218,396.5 L228,393" fill="none" stroke="#7d7d7d" stroke-width="1.8"/>
<path d="M258,396.5 L268,393" fill="none" stroke="#7d7d7d" stroke-width="1.8"/>
<path d="M109.0,400.3 L112.0,399.5 L115.0,399.1 L118.0,399.0 L121.0,399.4 L124.0,400.2 L127.0,401.2 L130.0,402.2 L133.0,403.1 L136.0,403.7 L139.0,404.0 L142.0,403.8 L145.0,403.2 L148.0,402.4 L151.0,401.3 L154.0,400.3 L157.0,399.5 L160.0,399.1 L163.0,399.0 L166.0,399.4 L169.0,400.2 L172.0,401.2 L175.0,402.2 L178.0,403.1 L181.0,403.7 L184.0,404.0 L187.0,403.8 L190.0,403.2 L193.0,402.4 L196.0,401.3 L199.0,400.3 L202.0,399.5 L205.0,399.1 L208.0,399.0 L211.0,399.4 L214.0,400.2 L217.0,401.2 L220.0,402.2 L223.0,403.1 L226.0,403.7 L229.0,404.0 L232.0,403.8 L235.0,403.2 L238.0,402.4 L241.0,401.3 L244.0,400.3 L247.0,399.5 L250.0,399.1 L253.0,399.0 L256.0,399.4 L259.0,400.2 L262.0,401.2 L265.0,402.2 L268.0,403.1 L271.0,403.7 L274.0,404.0" fill="none" stroke="#363636" stroke-width="1.6" stroke-opacity="1"/>
<rect x="105.0" y="407" width="173.6" height="29.0" fill="#4a4a4a"/>
<path d="M109.0,410.0 L112.0,409.6 L115.0,409.3 L118.0,409.1 L121.0,409.1 L124.0,409.3 L127.0,409.6 L130.0,410.0 L133.0,410.4 L136.0,410.7 L139.0,410.9 L142.0,410.9 L145.0,410.7 L148.0,410.4 L151.0,410.0 L154.0,409.6 L157.0,409.3 L160.0,409.1 L163.0,409.1 L166.0,409.3 L169.0,409.6 L172.0,410.0 L175.0,410.4 L178.0,410.7 L181.0,410.9 L184.0,410.9 L187.0,410.7 L190.0,410.4 L193.0,410.0 L196.0,409.6 L199.0,409.3 L202.0,409.1 L205.0,409.1 L208.0,409.3 L211.0,409.6 L214.0,410.0 L217.0,410.4 L220.0,410.7 L223.0,410.9 L226.0,410.9 L229.0,410.7 L232.0,410.4 L235.0,410.0 L238.0,409.6 L241.0,409.3 L244.0,409.1 L247.0,409.1 L250.0,409.3 L253.0,409.6 L256.0,410.0 L259.0,410.4 L262.0,410.7 L265.0,410.9 L268.0,410.9 L271.0,410.7 L274.0,410.4" fill="none" stroke="#969696" stroke-width="3.2" stroke-opacity="1"/>
<path d="M134.0,410.5 L137.0,410.8 L140.0,410.9 L143.0,410.8 L146.0,410.6 L149.0,410.3 L152.0,409.9 L155.0,409.5 L158.0,409.2 L161.0,409.1 L164.0,409.2 L167.0,409.4 L170.0,409.7 L173.0,410.1 L176.0,410.5 L179.0,410.8 L182.0,410.9 L185.0,410.8 L188.0,410.6" fill="none" stroke="#e4e4e4" stroke-width="3.0"/>
<path d="M205.0,409.1 L208.0,409.3 L211.0,409.6 L214.0,410.0 L217.0,410.4 L220.0,410.7 L223.0,410.9 L226.0,410.9 L229.0,410.7 L232.0,410.4" fill="none" stroke="#bebebe" stroke-width="2.6"/>
<path d="M109.0,414.6 L112.0,414.6 L115.0,414.6 L118.0,414.6 L121.0,414.6 L124.0,414.6 L127.0,414.6 L130.0,414.6 L133.0,414.6 L136.0,414.6 L139.0,414.6 L142.0,414.6 L145.0,414.6 L148.0,414.6 L151.0,414.6 L154.0,414.6 L157.0,414.6 L160.0,414.6 L163.0,414.6 L166.0,414.6 L169.0,414.6 L172.0,414.6 L175.0,414.6 L178.0,414.6 L181.0,414.6 L184.0,414.6 L187.0,414.6 L190.0,414.6 L193.0,414.6 L196.0,414.6 L199.0,414.6 L202.0,414.6 L205.0,414.6 L208.0,414.6 L211.0,414.6 L214.0,414.6 L217.0,414.6 L220.0,414.6 L223.0,414.6 L226.0,414.6 L229.0,414.6 L232.0,414.6 L235.0,414.6 L238.0,414.6 L241.0,414.6 L244.0,414.6 L247.0,414.6 L250.0,414.6 L253.0,414.6 L256.0,414.6 L259.0,414.6 L262.0,414.6 L265.0,414.6 L268.0,414.6 L271.0,414.6 L274.0,414.6" fill="none" stroke="#282828" stroke-width="1.8" stroke-opacity="1" stroke-dasharray="8 5"/>
<path d="M109.0,417.5 L112.0,417.5 L115.0,417.5 L118.0,417.5 L121.0,417.5 L124.0,417.5 L127.0,417.5 L130.0,417.5 L133.0,417.5 L136.0,417.5 L139.0,417.5 L142.0,417.5 L145.0,417.5 L148.0,417.5 L151.0,417.5 L154.0,417.5 L157.0,417.5 L160.0,417.5 L163.0,417.5 L166.0,417.5 L169.0,417.5 L172.0,417.5 L175.0,417.5 L178.0,417.5 L181.0,417.5 L184.0,417.5 L187.0,417.5 L190.0,417.5 L193.0,417.5 L196.0,417.5 L199.0,417.5 L202.0,417.5 L205.0,417.5 L208.0,417.5 L211.0,417.5 L214.0,417.5 L217.0,417.5 L220.0,417.5 L223.0,417.5 L226.0,417.5 L229.0,417.5 L232.0,417.5 L235.0,417.5 L238.0,417.5 L241.0,417.5 L244.0,417.5 L247.0,417.5 L250.0,417.5 L253.0,417.5 L256.0,417.5 L259.0,417.5 L262.0,417.5 L265.0,417.5 L268.0,417.5 L271.0,417.5 L274.0,417.5" fill="none" stroke="#787878" stroke-width="2" stroke-opacity="1" stroke-dasharray="9 5"/>
<path d="M109.0,421.0 L112.0,421.0 L115.0,421.0 L118.0,421.0 L121.0,421.0 L124.0,421.0 L127.0,421.0 L130.0,421.0 L133.0,421.0 L136.0,421.0 L139.0,421.0 L142.0,421.0 L145.0,421.0 L148.0,421.0 L151.0,421.0 L154.0,421.0 L157.0,421.0 L160.0,421.0 L163.0,421.0 L166.0,421.0 L169.0,421.0 L172.0,421.0 L175.0,421.0 L178.0,421.0 L181.0,421.0 L184.0,421.0 L187.0,421.0 L190.0,421.0 L193.0,421.0 L196.0,421.0 L199.0,421.0 L202.0,421.0 L205.0,421.0 L208.0,421.0 L211.0,421.0 L214.0,421.0 L217.0,421.0 L220.0,421.0 L223.0,421.0 L226.0,421.0 L229.0,421.0 L232.0,421.0 L235.0,421.0 L238.0,421.0 L241.0,421.0 L244.0,421.0 L247.0,421.0 L250.0,421.0 L253.0,421.0 L256.0,421.0 L259.0,421.0 L262.0,421.0 L265.0,421.0 L268.0,421.0 L271.0,421.0 L274.0,421.0" fill="none" stroke="#2d2d2d" stroke-width="1.8" stroke-opacity="1" stroke-dasharray="5 7"/>
<path d="M109.0,424.5 L112.0,424.5 L115.0,424.5 L118.0,424.5 L121.0,424.5 L124.0,424.5 L127.0,424.5 L130.0,424.5 L133.0,424.5 L136.0,424.5 L139.0,424.5 L142.0,424.5 L145.0,424.5 L148.0,424.5 L151.0,424.5 L154.0,424.5 L157.0,424.5 L160.0,424.5 L163.0,424.5 L166.0,424.5 L169.0,424.5 L172.0,424.5 L175.0,424.5 L178.0,424.5 L181.0,424.5 L184.0,424.5 L187.0,424.5 L190.0,424.5 L193.0,424.5 L196.0,424.5 L199.0,424.5 L202.0,424.5 L205.0,424.5 L208.0,424.5 L211.0,424.5 L214.0,424.5 L217.0,424.5 L220.0,424.5 L223.0,424.5 L226.0,424.5 L229.0,424.5 L232.0,424.5 L235.0,424.5 L238.0,424.5 L241.0,424.5 L244.0,424.5 L247.0,424.5 L250.0,424.5 L253.0,424.5 L256.0,424.5 L259.0,424.5 L262.0,424.5 L265.0,424.5 L268.0,424.5 L271.0,424.5 L274.0,424.5" fill="none" stroke="#707070" stroke-width="2" stroke-opacity="1" stroke-dasharray="7 6"/>
<path d="M109.0,428.0 L112.0,428.0 L115.0,428.0 L118.0,428.0 L121.0,428.0 L124.0,428.0 L127.0,428.0 L130.0,428.0 L133.0,428.0 L136.0,428.0 L139.0,428.0 L142.0,428.0 L145.0,428.0 L148.0,428.0 L151.0,428.0 L154.0,428.0 L157.0,428.0 L160.0,428.0 L163.0,428.0 L166.0,428.0 L169.0,428.0 L172.0,428.0 L175.0,428.0 L178.0,428.0 L181.0,428.0 L184.0,428.0 L187.0,428.0 L190.0,428.0 L193.0,428.0 L196.0,428.0 L199.0,428.0 L202.0,428.0 L205.0,428.0 L208.0,428.0 L211.0,428.0 L214.0,428.0 L217.0,428.0 L220.0,428.0 L223.0,428.0 L226.0,428.0 L229.0,428.0 L232.0,428.0 L235.0,428.0 L238.0,428.0 L241.0,428.0 L244.0,428.0 L247.0,428.0 L250.0,428.0 L253.0,428.0 L256.0,428.0 L259.0,428.0 L262.0,428.0 L265.0,428.0 L268.0,428.0 L271.0,428.0 L274.0,428.0" fill="none" stroke="#323232" stroke-width="1.8" stroke-opacity="1" stroke-dasharray="6 5"/>
</g></g>
<g clip-path="url(#cm1)"><g filter="url(#fM)">
<rect x="105.0" y="441.4" width="173.6" height="117.2" fill="#101010"/>
<path d="M109.0,454.2 L112.0,454.2 L115.0,454.2 L118.0,454.2 L121.0,454.2 L124.0,454.2 L127.0,454.2 L130.0,454.2 L133.0,454.2 L136.0,454.2 L139.0,454.2 L142.0,454.2 L145.0,454.2 L148.0,454.2 L151.0,454.2 L154.0,454.2 L157.0,454.2 L160.0,454.2 L163.0,454.2 L166.0,454.2 L169.0,454.2 L172.0,454.2 L175.0,454.2 L178.0,454.2 L181.0,454.2 L184.0,454.2 L187.0,454.2 L190.0,454.2 L193.0,454.2 L196.0,454.2 L199.0,454.2 L202.0,454.2 L205.0,454.2 L208.0,454.2 L211.0,454.2 L214.0,454.2 L217.0,454.2 L220.0,454.2 L223.0,454.2 L226.0,454.2 L229.0,454.2 L232.0,454.2 L235.0,454.2 L238.0,454.2 L241.0,454.2 L244.0,454.2 L247.0,454.2 L250.0,454.2 L253.0,454.2 L256.0,454.2 L259.0,454.2 L262.0,454.2 L265.0,454.2 L268.0,454.2 L271.0,454.2 L274.0,454.2" fill="none" stroke="#282828" stroke-width="1.0" stroke-opacity="1"/>
<rect x="105.0" y="462.5" width="173.6" height="19.5" fill="#2c2c2c"/>
<path d="M109.0,466.8 L112.0,466.8 L115.0,466.8 L118.0,466.8 L121.0,466.8 L124.0,466.8 L127.0,466.8 L130.0,466.8 L133.0,466.8 L136.0,466.8 L139.0,466.8 L142.0,466.8 L145.0,466.8 L148.0,466.8 L151.0,466.8 L154.0,466.8 L157.0,466.8 L160.0,466.8 L163.0,466.8 L166.0,466.8 L169.0,466.8 L172.0,466.8 L175.0,466.8 L178.0,466.8 L181.0,466.8 L184.0,466.8 L187.0,466.8 L190.0,466.8 L193.0,466.8 L196.0,466.8 L199.0,466.8 L202.0,466.8 L205.0,466.8 L208.0,466.8 L211.0,466.8 L214.0,466.8 L217.0,466.8 L220.0,466.8 L223.0,466.8 L226.0,466.8 L229.0,466.8 L232.0,466.8 L235.0,466.8 L238.0,466.8 L241.0,466.8 L244.0,466.8 L247.0,466.8 L250.0,466.8 L253.0,466.8 L256.0,466.8 L259.0,466.8 L262.0,466.8 L265.0,466.8 L268.0,466.8 L271.0,466.8 L274.0,466.8" fill="none" stroke="#787878" stroke-width="6.6" stroke-opacity="1"/>
<path d="M109.0,466.8 L112.0,466.8 L115.0,466.8 L118.0,466.8 L121.0,466.8 L124.0,466.8 L127.0,466.8 L130.0,466.8 L133.0,466.8 L136.0,466.8 L139.0,466.8 L142.0,466.8 L145.0,466.8 L148.0,466.8 L151.0,466.8 L154.0,466.8 L157.0,466.8 L160.0,466.8 L163.0,466.8 L166.0,466.8 L169.0,466.8 L172.0,466.8 L175.0,466.8 L178.0,466.8 L181.0,466.8 L184.0,466.8 L187.0,466.8 L190.0,466.8 L193.0,466.8 L196.0,466.8 L199.0,466.8 L202.0,466.8 L205.0,466.8 L208.0,466.8 L211.0,466.8 L214.0,466.8 L217.0,466.8 L220.0,466.8 L223.0,466.8 L226.0,466.8 L229.0,466.8 L232.0,466.8 L235.0,466.8 L238.0,466.8 L241.0,466.8 L244.0,466.8 L247.0,466.8 L250.0,466.8 L253.0,466.8 L256.0,466.8 L259.0,466.8 L262.0,466.8 L265.0,466.8 L268.0,466.8 L271.0,466.8 L274.0,466.8" fill="none" stroke="#ebebeb" stroke-width="3.6" stroke-opacity="1"/>
<path d="M109.0,473.3 L112.0,473.3 L115.0,473.3 L118.0,473.3 L121.0,473.3 L124.0,473.3 L127.0,473.3 L130.0,473.3 L133.0,473.3 L136.0,473.3 L139.0,473.3 L142.0,473.3 L145.0,473.3 L148.0,473.3 L151.0,473.3 L154.0,473.3 L157.0,473.3 L160.0,473.3 L163.0,473.3 L166.0,473.3 L169.0,473.3 L172.0,473.3 L175.0,473.3 L178.0,473.3 L181.0,473.3 L184.0,473.3 L187.0,473.3 L190.0,473.3 L193.0,473.3 L196.0,473.3 L199.0,473.3 L202.0,473.3 L205.0,473.3 L208.0,473.3 L211.0,473.3 L214.0,473.3 L217.0,473.3 L220.0,473.3 L223.0,473.3 L226.0,473.3 L229.0,473.3 L232.0,473.3 L235.0,473.3 L238.0,473.3 L241.0,473.3 L244.0,473.3 L247.0,473.3 L250.0,473.3 L253.0,473.3 L256.0,473.3 L259.0,473.3 L262.0,473.3 L265.0,473.3 L268.0,473.3 L271.0,473.3 L274.0,473.3" fill="none" stroke="#afafaf" stroke-width="2.0" stroke-opacity="1"/>
<path d="M109.0,479.2 L112.0,479.2 L115.0,479.2 L118.0,479.2 L121.0,479.2 L124.0,479.2 L127.0,479.2 L130.0,479.2 L133.0,479.2 L136.0,479.2 L139.0,479.2 L142.0,479.2 L145.0,479.2 L148.0,479.2 L151.0,479.2 L154.0,479.2 L157.0,479.2 L160.0,479.2 L163.0,479.2 L166.0,479.2 L169.0,479.2 L172.0,479.2 L175.0,479.2 L178.0,479.2 L181.0,479.2 L184.0,479.2 L187.0,479.2 L190.0,479.2 L193.0,479.2 L196.0,479.2 L199.0,479.2 L202.0,479.2 L205.0,479.2 L208.0,479.2 L211.0,479.2 L214.0,479.2 L217.0,479.2 L220.0,479.2 L223.0,479.2 L226.0,479.2 L229.0,479.2 L232.0,479.2 L235.0,479.2 L238.0,479.2 L241.0,479.2 L244.0,479.2 L247.0,479.2 L250.0,479.2 L253.0,479.2 L256.0,479.2 L259.0,479.2 L262.0,479.2 L265.0,479.2 L268.0,479.2 L271.0,479.2 L274.0,479.2" fill="none" stroke="#646464" stroke-width="4.6" stroke-opacity="1"/>
<path d="M109.0,479.2 L112.0,479.2 L115.0,479.2 L118.0,479.2 L121.0,479.2 L124.0,479.2 L127.0,479.2 L130.0,479.2 L133.0,479.2 L136.0,479.2 L139.0,479.2 L142.0,479.2 L145.0,479.2 L148.0,479.2 L151.0,479.2 L154.0,479.2 L157.0,479.2 L160.0,479.2 L163.0,479.2 L166.0,479.2 L169.0,479.2 L172.0,479.2 L175.0,479.2 L178.0,479.2 L181.0,479.2 L184.0,479.2 L187.0,479.2 L190.0,479.2 L193.0,479.2 L196.0,479.2 L199.0,479.2 L202.0,479.2 L205.0,479.2 L208.0,479.2 L211.0,479.2 L214.0,479.2 L217.0,479.2 L220.0,479.2 L223.0,479.2 L226.0,479.2 L229.0,479.2 L232.0,479.2 L235.0,479.2 L238.0,479.2 L241.0,479.2 L244.0,479.2 L247.0,479.2 L250.0,479.2 L253.0,479.2 L256.0,479.2 L259.0,479.2 L262.0,479.2 L265.0,479.2 L268.0,479.2 L271.0,479.2 L274.0,479.2" fill="none" stroke="#e1e1e1" stroke-width="2.6" stroke-opacity="1"/>
<rect x="105.0" y="482" width="173.6" height="15.0" fill="#282828"/>
<path d="M109.0,485.5 L112.0,485.5 L115.0,485.5 L118.0,485.5 L121.0,485.5 L124.0,485.5 L127.0,485.5 L130.0,485.5 L133.0,485.5 L136.0,485.5 L139.0,485.5 L142.0,485.5 L145.0,485.5 L148.0,485.5 L151.0,485.5 L154.0,485.5 L157.0,485.5 L160.0,485.5 L163.0,485.5 L166.0,485.5 L169.0,485.5 L172.0,485.5 L175.0,485.5 L178.0,485.5 L181.0,485.5 L184.0,485.5 L187.0,485.5 L190.0,485.5 L193.0,485.5 L196.0,485.5 L199.0,485.5 L202.0,485.5 L205.0,485.5 L208.0,485.5 L211.0,485.5 L214.0,485.5 L217.0,485.5 L220.0,485.5 L223.0,485.5 L226.0,485.5 L229.0,485.5 L232.0,485.5 L235.0,485.5 L238.0,485.5 L241.0,485.5 L244.0,485.5 L247.0,485.5 L250.0,485.5 L253.0,485.5 L256.0,485.5 L259.0,485.5 L262.0,485.5 L265.0,485.5 L268.0,485.5 L271.0,485.5 L274.0,485.5" fill="none" stroke="#464646" stroke-width="1.4" stroke-opacity="1"/>
<path d="M109.0,494.6 L112.0,494.6 L115.0,494.6 L118.0,494.6 L121.0,494.6 L124.0,494.6 L127.0,494.6 L130.0,494.6 L133.0,494.6 L136.0,494.6 L139.0,494.6 L142.0,494.6 L145.0,494.6 L148.0,494.6 L151.0,494.6 L154.0,494.6 L157.0,494.6 L160.0,494.6 L163.0,494.6 L166.0,494.2 L169.0,492.9 L172.0,491.6 L175.0,491.6 L178.0,491.6 L181.0,491.6 L184.0,491.6 L187.0,491.6 L190.0,491.0 L193.0,490.6 L196.0,491.0 L199.0,491.6 L202.0,492.0 L205.0,493.3 L208.0,496.6 L211.0,496.6 L214.0,496.7 L217.0,495.6 L220.0,495.2 L223.0,495.7 L226.0,496.8 L229.0,496.9 L232.0,496.9 L235.0,496.9 L238.0,497.0 L241.0,497.0 L244.0,497.0 L247.0,497.1 L250.0,497.1 L253.0,497.1 L256.0,497.2 L259.0,497.2 L262.0,497.2 L265.0,497.3 L268.0,497.3 L271.0,497.4 L274.0,497.4" fill="none" stroke="#464646" stroke-width="4.2" stroke-opacity="1"/>
<path d="M109.0,494.6 L112.0,494.6 L115.0,494.6 L118.0,494.6 L121.0,494.6 L124.0,494.6 L127.0,494.6 L130.0,494.6 L133.0,494.6 L136.0,494.6 L139.0,494.6 L142.0,494.6 L145.0,494.6 L148.0,494.6 L151.0,494.6 L154.0,494.6 L157.0,494.6 L160.0,494.6 L163.0,494.6 L166.0,494.2 L169.0,492.9 L172.0,491.6 L175.0,491.6 L178.0,491.6 L181.0,491.6 L184.0,491.6 L187.0,491.6 L190.0,491.0 L193.0,490.6 L196.0,491.0 L199.0,491.6 L202.0,492.0 L205.0,493.3 L208.0,496.6 L211.0,496.6 L214.0,496.7 L217.0,495.6 L220.0,495.2 L223.0,495.7 L226.0,496.8 L229.0,496.9 L232.0,496.9 L235.0,496.9 L238.0,497.0 L241.0,497.0 L244.0,497.0 L247.0,497.1 L250.0,497.1 L253.0,497.1 L256.0,497.2 L259.0,497.2 L262.0,497.2 L265.0,497.3 L268.0,497.3 L271.0,497.4 L274.0,497.4" fill="none" stroke="#b4b4b4" stroke-width="2.2" stroke-opacity="1"/>
<rect x="105.0" y="498.5" width="173.6" height="17.0" fill="#121212"/>
<rect x="105.0" y="516" width="173.6" height="18.0" fill="#262626"/>
<path d="M109.0,517.5 L112.0,517.8 L115.0,518.4 L118.0,519.2 L121.0,520.1 L124.0,521.1 L127.0,522.0 L130.0,522.9 L133.0,523.7 L136.0,524.2 L139.0,524.5 L142.0,524.5 L145.0,523.6 L148.0,521.8 L151.0,519.8 L154.0,518.2 L157.0,517.4 L160.0,517.5 L163.0,517.8 L166.0,518.4 L169.0,519.2 L172.0,520.1 L175.0,521.1 L178.0,522.1 L181.0,523.0 L184.0,523.7 L187.0,524.3 L190.0,524.6 L193.0,524.5 L196.0,523.5 L199.0,521.7 L202.0,519.7 L205.0,518.1 L208.0,517.4 L211.0,517.5 L214.0,517.9 L217.0,518.5 L220.0,519.3 L223.0,520.2 L226.0,521.2 L229.0,522.2 L232.0,523.1 L235.0,523.8 L238.0,524.3 L241.0,524.6 L244.0,524.4 L247.0,523.4 L250.0,521.5 L253.0,519.6 L256.0,518.0 L259.0,517.4 L262.0,517.5 L265.0,517.9 L268.0,518.5 L271.0,519.3 L274.0,520.3" fill="none" stroke="#969696" stroke-width="2.0" stroke-opacity="1"/>
<path d="M109.0,521.9 L112.0,522.2 L115.0,522.8 L118.0,523.6 L121.0,524.5 L124.0,525.5 L127.0,526.4 L130.0,527.3 L133.0,528.1 L136.0,528.6 L139.0,528.9 L142.0,528.9 L145.0,528.0 L148.0,526.2 L151.0,524.2 L154.0,522.6 L157.0,521.8 L160.0,521.9 L163.0,522.2 L166.0,522.8 L169.0,523.6 L172.0,524.5 L175.0,525.5 L178.0,526.5 L181.0,527.4 L184.0,528.1 L187.0,528.7 L190.0,529.0 L193.0,528.9 L196.0,527.9 L199.0,526.1 L202.0,524.1 L205.0,522.5 L208.0,521.8 L211.0,521.9 L214.0,522.3 L217.0,522.9 L220.0,523.7 L223.0,524.6 L226.0,525.6 L229.0,526.6 L232.0,527.5 L235.0,528.2 L238.0,528.7 L241.0,529.0 L244.0,528.8 L247.0,527.8 L250.0,525.9 L253.0,524.0 L256.0,522.4 L259.0,521.8 L262.0,521.9 L265.0,522.3 L268.0,522.9 L271.0,523.7 L274.0,524.7" fill="none" stroke="#6c6c6c" stroke-width="1.8" stroke-opacity="1"/>
<path d="M109.0,528.7 L112.0,528.9 L115.0,529.2 L118.0,529.6 L121.0,530.0 L124.0,530.5 L127.0,531.0 L130.0,531.5 L133.0,531.8 L136.0,532.1 L139.0,532.3 L142.0,532.3 L145.0,531.8 L148.0,530.9 L151.0,529.9 L154.0,529.1 L157.0,528.7 L160.0,528.7 L163.0,528.9 L166.0,529.2 L169.0,529.6 L172.0,530.1 L175.0,530.6 L178.0,531.1 L181.0,531.5 L184.0,531.9 L187.0,532.1 L190.0,532.3 L193.0,532.2 L196.0,531.7 L199.0,530.8 L202.0,529.8 L205.0,529.1 L208.0,528.7 L211.0,528.8 L214.0,528.9 L217.0,529.2 L220.0,529.6 L223.0,530.1 L226.0,530.6 L229.0,531.1 L232.0,531.5 L235.0,531.9 L238.0,532.2 L241.0,532.3 L244.0,532.2 L247.0,531.7 L250.0,530.8 L253.0,529.8 L256.0,529.0 L259.0,528.7 L262.0,528.8 L265.0,529.0 L268.0,529.3 L271.0,529.7 L274.0,530.1" fill="none" stroke="#3e3e3e" stroke-width="1.5" stroke-opacity="1"/>
<path d="M109.0,536.0 L112.0,535.6 L115.0,535.5 L118.0,535.6 L121.0,535.9 L124.0,536.3 L127.0,536.8 L130.0,537.3 L133.0,537.8 L136.0,538.3 L139.0,538.6 L142.0,538.8 L145.0,538.9 L148.0,538.7 L151.0,538.2 L154.0,537.4 L157.0,536.6 L160.0,536.0 L163.0,535.6 L166.0,535.5 L169.0,535.6 L172.0,535.9 L175.0,536.3 L178.0,536.8 L181.0,537.3 L184.0,537.8 L187.0,538.3 L190.0,538.6 L193.0,538.8 L196.0,538.9 L199.0,538.7 L202.0,538.1 L205.0,537.4 L208.0,536.6 L211.0,535.9 L214.0,535.6 L217.0,535.5 L220.0,535.7 L223.0,535.9 L226.0,536.4 L229.0,536.8 L232.0,537.4 L235.0,537.9 L238.0,538.3 L241.0,538.7 L244.0,538.9 L247.0,538.9 L250.0,538.6 L253.0,538.1 L256.0,537.3 L259.0,536.5 L262.0,535.9 L265.0,535.6 L268.0,535.5 L271.0,535.7 L274.0,536.0" fill="none" stroke="#787878" stroke-width="6.4" stroke-opacity="1"/>
<path d="M109.0,536.0 L112.0,535.6 L115.0,535.5 L118.0,535.6 L121.0,535.9 L124.0,536.3 L127.0,536.8 L130.0,537.3 L133.0,537.8 L136.0,538.3 L139.0,538.6 L142.0,538.8 L145.0,538.9 L148.0,538.7 L151.0,538.2 L154.0,537.4 L157.0,536.6 L160.0,536.0 L163.0,535.6 L166.0,535.5 L169.0,535.6 L172.0,535.9 L175.0,536.3 L178.0,536.8 L181.0,537.3 L184.0,537.8 L187.0,538.3 L190.0,538.6 L193.0,538.8 L196.0,538.9 L199.0,538.7 L202.0,538.1 L205.0,537.4 L208.0,536.6 L211.0,535.9 L214.0,535.6 L217.0,535.5 L220.0,535.7 L223.0,535.9 L226.0,536.4 L229.0,536.8 L232.0,537.4 L235.0,537.9 L238.0,538.3 L241.0,538.7 L244.0,538.9 L247.0,538.9 L250.0,538.6 L253.0,538.1 L256.0,537.3 L259.0,536.5 L262.0,535.9 L265.0,535.6 L268.0,535.5 L271.0,535.7 L274.0,536.0" fill="none" stroke="#fcfcfc" stroke-width="3.6" stroke-opacity="1"/>
<rect x="105.0" y="541.5" width="173.6" height="16.5" fill="#424242"/>
<path d="M109.0,544.5 L112.0,544.5 L115.0,544.5 L118.0,544.5 L121.0,544.5 L124.0,544.5 L127.0,544.5 L130.0,544.5 L133.0,544.5 L136.0,544.5 L139.0,544.5 L142.0,544.5 L145.0,544.5 L148.0,544.5 L151.0,544.5 L154.0,544.5 L157.0,544.5 L160.0,544.5 L163.0,544.5 L166.0,544.5 L169.0,544.5 L172.0,544.5 L175.0,544.5 L178.0,544.5 L181.0,544.5 L184.0,544.5 L187.0,544.5 L190.0,544.5 L193.0,544.5 L196.0,544.5 L199.0,544.5 L202.0,544.5 L205.0,544.5 L208.0,544.5 L211.0,544.5 L214.0,544.5 L217.0,544.5 L220.0,544.5 L223.0,544.5 L226.0,544.5 L229.0,544.5 L232.0,544.5 L235.0,544.5 L238.0,544.5 L241.0,544.5 L244.0,544.5 L247.0,544.5 L250.0,544.5 L253.0,544.5 L256.0,544.5 L259.0,544.5 L262.0,544.5 L265.0,544.5 L268.0,544.5 L271.0,544.5 L274.0,544.5" fill="none" stroke="#787878" stroke-width="1.8" stroke-opacity="1" stroke-dasharray="10 5"/>
<path d="M109.0,547.5 L112.0,547.5 L115.0,547.5 L118.0,547.5 L121.0,547.5 L124.0,547.5 L127.0,547.5 L130.0,547.5 L133.0,547.5 L136.0,547.5 L139.0,547.5 L142.0,547.5 L145.0,547.5 L148.0,547.5 L151.0,547.5 L154.0,547.5 L157.0,547.5 L160.0,547.5 L163.0,547.5 L166.0,547.5 L169.0,547.5 L172.0,547.5 L175.0,547.5 L178.0,547.5 L181.0,547.5 L184.0,547.5 L187.0,547.5 L190.0,547.5 L193.0,547.5 L196.0,547.5 L199.0,547.5 L202.0,547.5 L205.0,547.5 L208.0,547.5 L211.0,547.5 L214.0,547.5 L217.0,547.5 L220.0,547.5 L223.0,547.5 L226.0,547.5 L229.0,547.5 L232.0,547.5 L235.0,547.5 L238.0,547.5 L241.0,547.5 L244.0,547.5 L247.0,547.5 L250.0,547.5 L253.0,547.5 L256.0,547.5 L259.0,547.5 L262.0,547.5 L265.0,547.5 L268.0,547.5 L271.0,547.5 L274.0,547.5" fill="none" stroke="#282828" stroke-width="1.6" stroke-opacity="1" stroke-dasharray="6 6"/>
<path d="M109.0,550.0 L112.0,550.0 L115.0,550.0 L118.0,550.0 L121.0,550.0 L124.0,550.0 L127.0,550.0 L130.0,550.0 L133.0,550.0 L136.0,550.0 L139.0,550.0 L142.0,550.0 L145.0,550.0 L148.0,550.0 L151.0,550.0 L154.0,550.0 L157.0,550.0 L160.0,550.0 L163.0,550.0 L166.0,550.0 L169.0,550.0 L172.0,550.0 L175.0,550.0 L178.0,550.0 L181.0,550.0 L184.0,550.0 L187.0,550.0 L190.0,550.0 L193.0,550.0 L196.0,550.0 L199.0,550.0 L202.0,550.0 L205.0,550.0 L208.0,550.0 L211.0,550.0 L214.0,550.0 L217.0,550.0 L220.0,550.0 L223.0,550.0 L226.0,550.0 L229.0,550.0 L232.0,550.0 L235.0,550.0 L238.0,550.0 L241.0,550.0 L244.0,550.0 L247.0,550.0 L250.0,550.0 L253.0,550.0 L256.0,550.0 L259.0,550.0 L262.0,550.0 L265.0,550.0 L268.0,550.0 L271.0,550.0 L274.0,550.0" fill="none" stroke="#696969" stroke-width="1.8" stroke-opacity="1" stroke-dasharray="6 6"/>
</g></g>
<g clip-path="url(#cm2)"><g filter="url(#fM)">
<rect x="105.0" y="563.5" width="173.6" height="117.1" fill="#101010"/>
<rect x="105.0" y="583.5" width="173.6" height="22.5" fill="#282828"/>
<path d="M109.0,588.8 L112.0,588.8 L115.0,588.8 L118.0,588.8 L121.0,588.8 L124.0,588.7 L127.0,588.7 L130.0,588.7 L133.0,588.7 L136.0,588.7 L139.0,588.6 L142.0,588.6 L145.0,588.6 L148.0,588.6 L151.0,588.6 L154.0,588.6 L157.0,588.5 L160.0,588.5 L163.0,588.5 L166.0,588.5 L169.0,588.5 L172.0,588.4 L175.0,588.4 L178.0,588.4 L181.0,588.4 L184.0,588.4 L187.0,588.4 L190.0,588.3 L193.0,588.3 L196.0,588.3 L199.0,588.3 L202.0,588.3 L205.0,588.2 L208.0,588.2 L211.0,588.2 L214.0,588.2 L217.0,588.2 L220.0,588.2 L223.0,588.1 L226.0,588.1 L229.0,588.1 L232.0,588.1 L235.0,588.1 L238.0,588.0 L241.0,588.0 L244.0,588.0 L247.0,588.0 L250.0,588.0 L253.0,588.0 L256.0,587.9 L259.0,587.9 L262.0,587.9 L265.0,587.9 L268.0,587.9 L271.0,587.9 L274.0,587.8" fill="none" stroke="#505050" stroke-width="8.4" stroke-opacity="1"/>
<path d="M109.0,586.2 L112.0,586.2 L115.0,586.2 L118.0,586.2 L121.0,586.2 L124.0,586.1 L127.0,586.1 L130.0,586.1 L133.0,586.1 L136.0,586.1 L139.0,586.0 L142.0,586.0 L145.0,586.0 L148.0,586.0 L151.0,586.0 L154.0,586.0 L157.0,585.9 L160.0,585.9 L163.0,585.9 L166.0,585.9 L169.0,585.9 L172.0,585.8 L175.0,585.8 L178.0,585.8 L181.0,585.8 L184.0,585.8 L187.0,585.8 L190.0,585.7 L193.0,585.7 L196.0,585.7 L199.0,585.7 L202.0,585.7 L205.0,585.6 L208.0,585.6 L211.0,585.6 L214.0,585.6 L217.0,585.6 L220.0,585.6 L223.0,585.5 L226.0,585.5 L229.0,585.5 L232.0,585.5 L235.0,585.5 L238.0,585.5 L241.0,585.4 L244.0,585.4 L247.0,585.4 L250.0,585.4 L253.0,585.4 L256.0,585.3 L259.0,585.3 L262.0,585.3 L265.0,585.3 L268.0,585.3 L271.0,585.3 L274.0,585.2" fill="none" stroke="#707070" stroke-width="2.0" stroke-opacity="1"/>
<path d="M109.0,589.0 L112.0,589.0 L115.0,589.0 L118.0,589.0 L121.0,589.0 L124.0,588.9 L127.0,588.9 L130.0,588.9 L133.0,588.9 L136.0,588.9 L139.0,588.8 L142.0,588.8 L145.0,588.8 L148.0,588.8 L151.0,588.8 L154.0,588.8 L157.0,588.7 L160.0,588.7 L163.0,588.7 L166.0,588.7 L169.0,588.7 L172.0,588.6 L175.0,588.6 L178.0,588.6 L181.0,588.6 L184.0,588.6 L187.0,588.6 L190.0,588.5 L193.0,588.5 L196.0,588.5 L199.0,588.5 L202.0,588.5 L205.0,588.4 L208.0,588.4 L211.0,588.4 L214.0,588.4 L217.0,588.4 L220.0,588.4 L223.0,588.3 L226.0,588.3 L229.0,588.3 L232.0,588.3 L235.0,588.3 L238.0,588.2 L241.0,588.2 L244.0,588.2 L247.0,588.2 L250.0,588.2 L253.0,588.2 L256.0,588.1 L259.0,588.1 L262.0,588.1 L265.0,588.1 L268.0,588.1 L271.0,588.1 L274.0,588.0" fill="none" stroke="#626262" stroke-width="2.0" stroke-opacity="1"/>
<path d="M109.0,591.8 L112.0,591.8 L115.0,591.8 L118.0,591.8 L121.0,591.8 L124.0,591.7 L127.0,591.7 L130.0,591.7 L133.0,591.7 L136.0,591.7 L139.0,591.6 L142.0,591.6 L145.0,591.6 L148.0,591.6 L151.0,591.6 L154.0,591.6 L157.0,591.5 L160.0,591.5 L163.0,591.5 L166.0,591.5 L169.0,591.5 L172.0,591.4 L175.0,591.4 L178.0,591.4 L181.0,591.4 L184.0,591.4 L187.0,591.4 L190.0,591.3 L193.0,591.3 L196.0,591.3 L199.0,591.3 L202.0,591.3 L205.0,591.2 L208.0,591.2 L211.0,591.2 L214.0,591.2 L217.0,591.2 L220.0,591.2 L223.0,591.1 L226.0,591.1 L229.0,591.1 L232.0,591.1 L235.0,591.1 L238.0,591.0 L241.0,591.0 L244.0,591.0 L247.0,591.0 L250.0,591.0 L253.0,591.0 L256.0,590.9 L259.0,590.9 L262.0,590.9 L265.0,590.9 L268.0,590.9 L271.0,590.9 L274.0,590.8" fill="none" stroke="#707070" stroke-width="1.8" stroke-opacity="1"/>
<path d="M109.0,597.0 L112.0,597.0 L115.0,597.0 L118.0,597.0 L121.0,596.9 L124.0,596.9 L127.0,596.9 L130.0,596.8 L133.0,596.8 L136.0,596.8 L139.0,596.7 L142.0,596.7 L145.0,596.7 L148.0,596.6 L151.0,596.6 L154.0,596.6 L157.0,596.6 L160.0,596.5 L163.0,596.5 L166.0,596.5 L169.0,596.4 L172.0,596.4 L175.0,596.4 L178.0,596.4 L181.0,596.3 L184.0,596.3 L187.0,596.3 L190.0,596.2 L193.0,596.2 L196.0,596.2 L199.0,596.1 L202.0,596.1 L205.0,596.1 L208.0,596.0 L211.0,596.0 L214.0,596.0 L217.0,596.0 L220.0,595.9 L223.0,595.9 L226.0,595.9 L229.0,595.8 L232.0,595.8 L235.0,595.8 L238.0,595.8 L241.0,595.7 L244.0,595.7 L247.0,595.7 L250.0,595.6 L253.0,595.6 L256.0,595.6 L259.0,595.5 L262.0,595.5 L265.0,595.5 L268.0,595.5 L271.0,595.4 L274.0,595.4" fill="none" stroke="#969696" stroke-width="1.6" stroke-opacity="1"/>
<path d="M109.0,603.6 L112.0,603.5 L115.0,603.5 L118.0,603.4 L121.0,603.4 L124.0,603.3 L127.0,603.3 L130.0,603.2 L133.0,603.2 L136.0,603.1 L139.0,603.1 L142.0,603.0 L145.0,603.0 L148.0,602.9 L151.0,602.9 L154.0,602.8 L157.0,602.8 L160.0,602.7 L163.0,602.7 L166.0,602.7 L169.0,602.6 L172.0,602.6 L175.0,602.5 L178.0,602.5 L181.0,602.4 L184.0,602.4 L187.0,602.3 L190.0,602.3 L193.0,602.2 L196.0,602.2 L199.0,602.1 L202.0,602.1 L205.0,602.0 L208.0,602.0 L211.0,601.9 L214.0,601.9 L217.0,601.8 L220.0,601.8 L223.0,601.7 L226.0,601.7 L229.0,601.6 L232.0,601.6 L235.0,601.5 L238.0,601.5 L241.0,601.5 L244.0,601.4 L247.0,601.4 L250.0,601.3 L253.0,601.3 L256.0,601.2 L259.0,601.2 L262.0,601.1 L265.0,601.1 L268.0,601.0 L271.0,601.0 L274.0,600.9" fill="none" stroke="#5a5a5a" stroke-width="4.2" stroke-opacity="1"/>
<path d="M109.0,603.6 L112.0,603.5 L115.0,603.5 L118.0,603.4 L121.0,603.4 L124.0,603.3 L127.0,603.3 L130.0,603.2 L133.0,603.2 L136.0,603.1 L139.0,603.1 L142.0,603.0 L145.0,603.0 L148.0,602.9 L151.0,602.9 L154.0,602.8 L157.0,602.8 L160.0,602.7 L163.0,602.7 L166.0,602.7 L169.0,602.6 L172.0,602.6 L175.0,602.5 L178.0,602.5 L181.0,602.4 L184.0,602.4 L187.0,602.3 L190.0,602.3 L193.0,602.2 L196.0,602.2 L199.0,602.1 L202.0,602.1 L205.0,602.0 L208.0,602.0 L211.0,601.9 L214.0,601.9 L217.0,601.8 L220.0,601.8 L223.0,601.7 L226.0,601.7 L229.0,601.6 L232.0,601.6 L235.0,601.5 L238.0,601.5 L241.0,601.5 L244.0,601.4 L247.0,601.4 L250.0,601.3 L253.0,601.3 L256.0,601.2 L259.0,601.2 L262.0,601.1 L265.0,601.1 L268.0,601.0 L271.0,601.0 L274.0,600.9" fill="none" stroke="#cdcdcd" stroke-width="2.2" stroke-opacity="1"/>
<rect x="105.0" y="606.5" width="173.6" height="33.5" fill="#1b1b1b"/>
<path d="M109.0,614.0 L112.0,614.0 L115.0,614.0 L118.0,614.0 L121.0,614.0 L124.0,613.5 L127.0,612.8 L130.0,612.3 L133.0,612.2 L136.0,612.7 L139.0,613.4 L142.0,613.9 L145.0,614.0 L148.0,614.0 L151.0,614.0 L154.0,614.0 L157.0,614.0 L160.0,614.0 L163.0,614.0 L166.0,614.0 L169.0,613.9 L172.0,613.3 L175.0,612.6 L178.0,612.2 L181.0,612.4 L184.0,613.0 L187.0,613.6 L190.0,614.0 L193.0,614.0 L196.0,614.0 L199.0,614.0 L202.0,614.0 L205.0,614.0 L208.0,614.0 L211.0,614.0 L214.0,614.0 L217.0,613.7 L220.0,613.1 L223.0,612.4 L226.0,612.2 L229.0,612.5 L232.0,613.2 L235.0,613.8 L238.0,614.0 L241.0,614.0 L244.0,614.0 L247.0,614.0 L250.0,614.0 L253.0,614.0 L256.0,614.0 L259.0,614.0 L262.0,614.0 L265.0,613.5 L268.0,612.8 L271.0,612.3 L274.0,612.2" fill="none" stroke="#3a3a3a" stroke-width="1.5" stroke-opacity="1"/>
<path d="M214,615 Q228,613 238,610 Q250,613 270,616" fill="none" stroke="#a5a5a5" stroke-width="2"/>
<rect x="105.0" y="618" width="173.6" height="20.5" fill="#131313"/>
<rect x="105.0" y="639.5" width="173.6" height="40.5" fill="#3a3a3a"/>
<path d="M109.0,640.6 L112.0,640.3 L115.0,640.4 L118.0,640.8 L121.0,641.4 L124.0,642.3 L127.0,643.2 L130.0,643.9 L133.0,644.5 L136.0,644.7 L139.0,644.6 L142.0,644.1 L145.0,643.4 L148.0,642.6 L151.0,641.7 L154.0,641.0 L157.0,640.5 L160.0,640.3 L163.0,640.5 L166.0,641.0 L169.0,641.7 L172.0,642.6 L175.0,643.4 L178.0,644.1 L181.0,644.6 L184.0,644.7 L187.0,644.5 L190.0,643.9 L193.0,643.2 L196.0,642.3 L199.0,641.4 L202.0,640.8 L205.0,640.4 L208.0,640.3 L211.0,640.6 L214.0,641.2 L217.0,642.0 L220.0,642.9 L223.0,643.7 L226.0,644.3 L229.0,644.7 L232.0,644.7 L235.0,644.3 L238.0,643.7 L241.0,642.9 L244.0,642.0 L247.0,641.2 L250.0,640.6 L253.0,640.3 L256.0,640.4 L259.0,640.8 L262.0,641.4 L265.0,642.3 L268.0,643.2 L271.0,643.9 L274.0,644.5" fill="none" stroke="#6e6e6e" stroke-width="2.0" stroke-opacity="1"/>
<path d="M109.0,645.6 L112.0,645.3 L115.0,645.4 L118.0,645.8 L121.0,646.4 L124.0,647.3 L127.0,648.2 L130.0,648.9 L133.0,649.5 L136.0,649.7 L139.0,649.6 L142.0,649.1 L145.0,648.4 L148.0,647.6 L151.0,646.7 L154.0,646.0 L157.0,645.5 L160.0,645.3 L163.0,645.5 L166.0,646.0 L169.0,646.7 L172.0,647.6 L175.0,648.4 L178.0,649.1 L181.0,649.6 L184.0,649.7 L187.0,649.5 L190.0,648.9 L193.0,648.2 L196.0,647.3 L199.0,646.4 L202.0,645.8 L205.0,645.4 L208.0,645.3 L211.0,645.6 L214.0,646.2 L217.0,647.0 L220.0,647.9 L223.0,648.7 L226.0,649.3 L229.0,649.7 L232.0,649.7 L235.0,649.3 L238.0,648.7 L241.0,647.9 L244.0,647.0 L247.0,646.2 L250.0,645.6 L253.0,645.3 L256.0,645.4 L259.0,645.8 L262.0,646.4 L265.0,647.3 L268.0,648.2 L271.0,648.9 L274.0,649.5" fill="none" stroke="#626262" stroke-width="2.0" stroke-opacity="1"/>
<path d="M109.0,653.9 L112.0,653.9 L115.0,653.9 L118.0,653.9 L121.0,653.9 L124.0,653.9 L127.0,653.9 L130.0,653.9 L133.0,653.9 L136.0,653.9 L139.0,653.9 L142.0,653.9 L145.0,653.9 L148.0,653.9 L151.0,654.7 L154.0,655.5 L157.0,656.2 L160.0,656.5 L163.0,656.5 L166.0,656.5 L169.0,656.5 L172.0,656.5 L175.0,656.5 L178.0,656.5 L181.0,656.5 L184.0,656.5 L187.0,656.6 L190.0,657.0 L193.0,657.3 L196.0,657.7 L199.0,657.7 L202.0,657.7 L205.0,656.7 L208.0,655.6 L211.0,654.6 L214.0,653.9 L217.0,653.9 L220.0,653.9 L223.0,653.9 L226.0,653.9 L229.0,653.9 L232.0,653.9 L235.0,653.9 L238.0,653.9 L241.0,653.9 L244.0,653.9 L247.0,653.9 L250.0,653.9 L253.0,653.9 L256.0,653.9 L259.0,653.9 L262.0,653.9 L265.0,653.9 L268.0,653.9 L271.0,653.9 L274.0,653.9" fill="none" stroke="#646464" stroke-width="5.4" stroke-opacity="1"/>
<path d="M109.0,653.9 L112.0,653.9 L115.0,653.9 L118.0,653.9 L121.0,653.9 L124.0,653.9 L127.0,653.9 L130.0,653.9 L133.0,653.9 L136.0,653.9 L139.0,653.9 L142.0,653.9 L145.0,653.9 L148.0,653.9 L151.0,654.7 L154.0,655.5 L157.0,656.2 L160.0,656.5 L163.0,656.5 L166.0,656.5 L169.0,656.5 L172.0,656.5 L175.0,656.5 L178.0,656.5 L181.0,656.5 L184.0,656.5 L187.0,656.6 L190.0,657.0 L193.0,657.3 L196.0,657.7 L199.0,657.7 L202.0,657.7 L205.0,656.7 L208.0,655.6 L211.0,654.6 L214.0,653.9 L217.0,653.9 L220.0,653.9 L223.0,653.9 L226.0,653.9 L229.0,653.9 L232.0,653.9 L235.0,653.9 L238.0,653.9 L241.0,653.9 L244.0,653.9 L247.0,653.9 L250.0,653.9 L253.0,653.9 L256.0,653.9 L259.0,653.9 L262.0,653.9 L265.0,653.9 L268.0,653.9 L271.0,653.9 L274.0,653.9" fill="none" stroke="#c3c3c3" stroke-width="2.8" stroke-opacity="1"/>
<path d="M146.0,653.9 L149.0,654.2 L152.0,654.9 L155.0,655.7 L158.0,656.5 L161.0,656.5 L164.0,656.5 L167.0,656.5 L170.0,656.5 L173.0,656.5 L176.0,656.5 L179.0,656.5 L182.0,656.5 L185.0,656.5 L188.0,656.7 L191.0,657.1 L194.0,657.5 L197.0,657.7 L200.0,657.7 L203.0,657.4 L206.0,656.3 L209.0,655.3 L212.0,654.2 L215.0,653.9" fill="none" stroke="#f5f5f5" stroke-width="3.0"/>
<rect x="105.0" y="660" width="173.6" height="20.0" fill="#3a3a3a"/>
<path d="M109.0,663.0 L112.0,663.0 L115.0,663.0 L118.0,663.0 L121.0,663.0 L124.0,663.0 L127.0,663.0 L130.0,663.0 L133.0,663.0 L136.0,663.0 L139.0,663.0 L142.0,663.0 L145.0,663.0 L148.0,663.0 L151.0,663.0 L154.0,663.0 L157.0,663.0 L160.0,663.0 L163.0,663.0 L166.0,663.0 L169.0,663.0 L172.0,663.0 L175.0,663.0 L178.0,663.0 L181.0,663.0 L184.0,663.0 L187.0,663.0 L190.0,663.0 L193.0,663.0 L196.0,663.0 L199.0,663.0 L202.0,663.0 L205.0,663.0 L208.0,663.0 L211.0,663.0 L214.0,663.0 L217.0,663.0 L220.0,663.0 L223.0,663.0 L226.0,663.0 L229.0,663.0 L232.0,663.0 L235.0,663.0 L238.0,663.0 L241.0,663.0 L244.0,663.0 L247.0,663.0 L250.0,663.0 L253.0,663.0 L256.0,663.0 L259.0,663.0 L262.0,663.0 L265.0,663.0 L268.0,663.0 L271.0,663.0 L274.0,663.0" fill="none" stroke="#767676" stroke-width="1.8" stroke-opacity="1" stroke-dasharray="12 5"/>
<path d="M109.0,666.0 L112.0,666.0 L115.0,666.0 L118.0,666.0 L121.0,666.0 L124.0,666.0 L127.0,666.0 L130.0,666.0 L133.0,666.0 L136.0,666.0 L139.0,666.0 L142.0,666.0 L145.0,666.0 L148.0,666.0 L151.0,666.0 L154.0,666.0 L157.0,666.0 L160.0,666.0 L163.0,666.0 L166.0,666.0 L169.0,666.0 L172.0,666.0 L175.0,666.0 L178.0,666.0 L181.0,666.0 L184.0,666.0 L187.0,666.0 L190.0,666.0 L193.0,666.0 L196.0,666.0 L199.0,666.0 L202.0,666.0 L205.0,666.0 L208.0,666.0 L211.0,666.0 L214.0,666.0 L217.0,666.0 L220.0,666.0 L223.0,666.0 L226.0,666.0 L229.0,666.0 L232.0,666.0 L235.0,666.0 L238.0,666.0 L241.0,666.0 L244.0,666.0 L247.0,666.0 L250.0,666.0 L253.0,666.0 L256.0,666.0 L259.0,666.0 L262.0,666.0 L265.0,666.0 L268.0,666.0 L271.0,666.0 L274.0,666.0" fill="none" stroke="#242424" stroke-width="1.6" stroke-opacity="1" stroke-dasharray="7 6"/>
<path d="M109.0,668.5 L112.0,668.5 L115.0,668.5 L118.0,668.5 L121.0,668.5 L124.0,668.5 L127.0,668.5 L130.0,668.5 L133.0,668.5 L136.0,668.5 L139.0,668.5 L142.0,668.5 L145.0,668.5 L148.0,668.5 L151.0,668.5 L154.0,668.5 L157.0,668.5 L160.0,668.5 L163.0,668.5 L166.0,668.5 L169.0,668.5 L172.0,668.5 L175.0,668.5 L178.0,668.5 L181.0,668.5 L184.0,668.5 L187.0,668.5 L190.0,668.5 L193.0,668.5 L196.0,668.5 L199.0,668.5 L202.0,668.5 L205.0,668.5 L208.0,668.5 L211.0,668.5 L214.0,668.5 L217.0,668.5 L220.0,668.5 L223.0,668.5 L226.0,668.5 L229.0,668.5 L232.0,668.5 L235.0,668.5 L238.0,668.5 L241.0,668.5 L244.0,668.5 L247.0,668.5 L250.0,668.5 L253.0,668.5 L256.0,668.5 L259.0,668.5 L262.0,668.5 L265.0,668.5 L268.0,668.5 L271.0,668.5 L274.0,668.5" fill="none" stroke="#646464" stroke-width="1.8" stroke-opacity="1" stroke-dasharray="7 6"/>
<path d="M109.0,672.0 L112.0,672.0 L115.0,672.0 L118.0,672.0 L121.0,672.0 L124.0,672.0 L127.0,672.0 L130.0,672.0 L133.0,672.0 L136.0,672.0 L139.0,672.0 L142.0,672.0 L145.0,672.0 L148.0,672.0 L151.0,672.0 L154.0,672.0 L157.0,672.0 L160.0,672.0 L163.0,672.0 L166.0,672.0 L169.0,672.0 L172.0,672.0 L175.0,672.0 L178.0,672.0 L181.0,672.0 L184.0,672.0 L187.0,672.0 L190.0,672.0 L193.0,672.0 L196.0,672.0 L199.0,672.0 L202.0,672.0 L205.0,672.0 L208.0,672.0 L211.0,672.0 L214.0,672.0 L217.0,672.0 L220.0,672.0 L223.0,672.0 L226.0,672.0 L229.0,672.0 L232.0,672.0 L235.0,672.0 L238.0,672.0 L241.0,672.0 L244.0,672.0 L247.0,672.0 L250.0,672.0 L253.0,672.0 L256.0,672.0 L259.0,672.0 L262.0,672.0 L265.0,672.0 L268.0,672.0 L271.0,672.0 L274.0,672.0" fill="none" stroke="#5f5f5f" stroke-width="1.8" stroke-opacity="1" stroke-dasharray="9 4"/>
</g></g>
<line x1="46.80" y1="479.60" x2="46.80" y2="518.40" stroke="#f4f4f4" stroke-width="1.25" />
<line x1="43.90" y1="479.60" x2="49.70" y2="479.60" stroke="#f4f4f4" stroke-width="1.2" />
<line x1="43.90" y1="518.40" x2="49.70" y2="518.40" stroke="#f4f4f4" stroke-width="1.2" />
<line x1="44.60" y1="495.10" x2="49.00" y2="495.10" stroke="#f4f4f4" stroke-width="0.8" />
<line x1="44.60" y1="496.70" x2="49.00" y2="496.70" stroke="#f4f4f4" stroke-width="0.8" />
<line x1="46.50" y1="601.50" x2="46.50" y2="644.60" stroke="#f4f4f4" stroke-width="1.25" />
<line x1="43.60" y1="601.50" x2="49.40" y2="601.50" stroke="#f4f4f4" stroke-width="1.2" />
<line x1="43.60" y1="644.60" x2="49.40" y2="644.60" stroke="#f4f4f4" stroke-width="1.2" />
<line x1="44.30" y1="613.30" x2="48.70" y2="613.30" stroke="#f4f4f4" stroke-width="0.8" />
<line x1="44.30" y1="614.90" x2="48.70" y2="614.90" stroke="#f4f4f4" stroke-width="0.8" />
<line x1="56.50" y1="488.00" x2="84.40" y2="488.00" stroke="#f4f4f4" stroke-width="1.4" />
<polygon points="52,488 57.7,485.4 57.7,490.6" fill="#f4f4f4"/>
<line x1="101.60" y1="488.00" x2="122.50" y2="488.00" stroke="#f4f4f4" stroke-width="1.4" />
<polygon points="127.3,488 121.6,485.4 121.6,490.6" fill="#f4f4f4"/>
<line x1="56.50" y1="507.00" x2="84.40" y2="507.00" stroke="#f4f4f4" stroke-width="1.4" />
<polygon points="52,507 57.7,504.4 57.7,509.6" fill="#f4f4f4"/>
<line x1="100.20" y1="507.00" x2="122.50" y2="507.00" stroke="#f4f4f4" stroke-width="1.4" />
<polygon points="127.3,507 121.6,504.4 121.6,509.6" fill="#f4f4f4"/>
<text x="93.20" y="492.10" font-size="11.4" text-anchor="middle" font-weight="normal" fill="#f4f4f4" stroke="#f4f4f4" stroke-width="0.35">W</text>
<text x="93.00" y="511.20" font-size="11.4" text-anchor="middle" font-weight="normal" fill="#f4f4f4" stroke="#f4f4f4" stroke-width="0.35">L</text>
<polygon points="108.4,406.8 113,404.7 113,408.90000000000003" fill="#e8e8e8"/>
<polygon points="108.4,530.1 113,528.0 113,532.2" fill="#e8e8e8"/>
<polygon points="108.4,644.9 113,642.8 113,647.0" fill="#e8e8e8"/>
<line x1="121.50" y1="682.20" x2="252.00" y2="682.20" stroke="#000" stroke-width="1.1" />
<polygon points="256.8,682.2 250,679.5 250,684.9" fill="#000"/>
<text x="188.30" y="695.60" font-size="11" text-anchor="middle" font-weight="bold" fill="#000"  stroke="#000" stroke-width="0.22">Time</text>
</g>
</svg>
</body></html>
